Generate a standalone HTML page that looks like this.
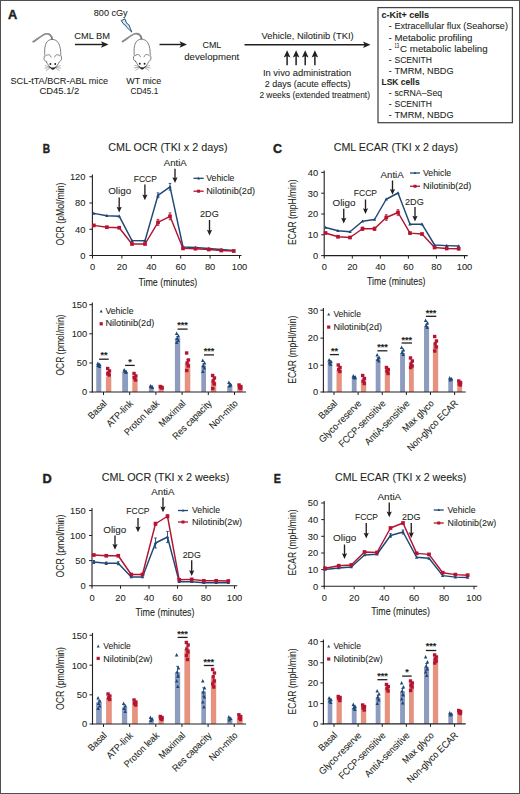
<!DOCTYPE html>
<html><head><meta charset="utf-8"><title>Figure</title>
<style>
html,body{margin:0;padding:0;background:#fff;}
body{width:520px;height:794px;overflow:hidden;}
svg{display:block;font-family:"Liberation Sans",sans-serif;}
text{stroke:#231f20;stroke-width:0.08px;paint-order:stroke;}
</style></head>
<body>
<svg width="520" height="794" viewBox="0 0 520 794" fill="#231f20">
<rect width="520" height="794" fill="#fff"/>
<rect x="0.5" y="0.5" width="519" height="793" fill="none" stroke="#505050" stroke-width="1"/>
<text x="8.10" y="18.80" font-size="13.5" textLength="9.23" lengthAdjust="spacingAndGlyphs" font-weight="bold" style="stroke-width:0.45px">A</text>
<text x="93.80" y="15.50" font-size="9.5" textLength="33.80" lengthAdjust="spacingAndGlyphs">800 cGy</text>
<g transform="translate(-89.40,0.20)" fill="none" stroke="#3c3c3c" stroke-width="0.65" stroke-linecap="round" stroke-linejoin="round"><path d="M122.6,41.5 C126,39.5 131,35 134.9,33.8 C137,33.2 139.5,34 141,36.5 L141.5,39" stroke-width="1.7" stroke="#6f6f6f"/><path d="M122.9,41.2 C126,39.3 131,35 134.9,33.8 C137,33.2 139.5,34 141,36.5" stroke-width="0.5" stroke="#c8c8c8"/><path d="M135.7,61.5 C134.2,60.8 133.3,59.5 133.4,58 C133.5,56.8 133.9,55.9 134.3,55.4 C133.8,51 134,46 135.5,43 C136.8,40.5 139,39.2 141.6,39.2 C144.2,39.2 146.5,40.5 148,43 C149.7,46 150.3,51 150.2,55.4 C150.6,55.9 151,56.8 151,58 C151,59.5 150.2,60.8 148.8,61.5 C147.5,64 145.5,67.5 142.2,69.3 C139,67.5 137,64 135.7,61.5 Z" fill="#fff"/><path d="M135.3,55.7 C136.3,54.6 137.6,54.3 138.6,54.7 C139.6,55.1 140.2,55.8 140.4,56.8"/><path d="M149.2,55.7 C148.2,54.6 146.9,54.3 145.9,54.7 C144.9,55.1 144.3,55.8 144.1,56.8"/><circle cx="139.8" cy="63.8" r="0.95" fill="#1e1e1e" stroke="none"/><circle cx="144.6" cy="63.8" r="0.95" fill="#1e1e1e" stroke="none"/><path d="M139.3,66.8 C140.2,68.3 141.2,69.1 142.2,69.1 C143.2,69.1 144.2,68.3 145.1,66.8 C144.3,67.4 143.3,67.7 142.2,67.7 C141.1,67.7 140.1,67.4 139.3,66.8 Z" fill="#1e1e1e" stroke-width="0.7"/><path d="M139,66.7 L134.7,65.4 M139,67.3 L134.3,67.9 M139.4,67.8 L135.6,70.3 M145.4,66.7 L149.7,65.4 M145.4,67.3 L150.1,67.9 M145,67.8 L148.8,70.3" stroke-width="0.45" stroke="#555"/></g>
<g transform="translate(0.00,0.00)" fill="none" stroke="#3c3c3c" stroke-width="0.65" stroke-linecap="round" stroke-linejoin="round"><path d="M122.6,41.5 C126,39.5 131,35 134.9,33.8 C137,33.2 139.5,34 141,36.5 L141.5,39" stroke-width="1.7" stroke="#6f6f6f"/><path d="M122.9,41.2 C126,39.3 131,35 134.9,33.8 C137,33.2 139.5,34 141,36.5" stroke-width="0.5" stroke="#c8c8c8"/><path d="M135.7,61.5 C134.2,60.8 133.3,59.5 133.4,58 C133.5,56.8 133.9,55.9 134.3,55.4 C133.8,51 134,46 135.5,43 C136.8,40.5 139,39.2 141.6,39.2 C144.2,39.2 146.5,40.5 148,43 C149.7,46 150.3,51 150.2,55.4 C150.6,55.9 151,56.8 151,58 C151,59.5 150.2,60.8 148.8,61.5 C147.5,64 145.5,67.5 142.2,69.3 C139,67.5 137,64 135.7,61.5 Z" fill="#fff"/><path d="M135.3,55.7 C136.3,54.6 137.6,54.3 138.6,54.7 C139.6,55.1 140.2,55.8 140.4,56.8"/><path d="M149.2,55.7 C148.2,54.6 146.9,54.3 145.9,54.7 C144.9,55.1 144.3,55.8 144.1,56.8"/><circle cx="139.8" cy="63.8" r="0.95" fill="#1e1e1e" stroke="none"/><circle cx="144.6" cy="63.8" r="0.95" fill="#1e1e1e" stroke="none"/><path d="M139.3,66.8 C140.2,68.3 141.2,69.1 142.2,69.1 C143.2,69.1 144.2,68.3 145.1,66.8 C144.3,67.4 143.3,67.7 142.2,67.7 C141.1,67.7 140.1,67.4 139.3,66.8 Z" fill="#1e1e1e" stroke-width="0.7"/><path d="M139,66.7 L134.7,65.4 M139,67.3 L134.3,67.9 M139.4,67.8 L135.6,70.3 M145.4,66.7 L149.7,65.4 M145.4,67.3 L150.1,67.9 M145,67.8 L148.8,70.3" stroke-width="0.45" stroke="#555"/></g>
<path d="M121.2,20.6 L124.9,18.9 L126.7,23.3 L128.8,24.6 L131.8,32.1 L126.6,27.2 L125.6,25.3 L123.9,24.5 Z" fill="#cfe9f7" stroke="#1b3f66" stroke-width="0.9" stroke-linejoin="round"/>
<text x="74.25" y="39.25" font-size="9.5" textLength="35.75" lengthAdjust="spacingAndGlyphs">CML BM</text>
<line x1="75.00" y1="44.50" x2="104.50" y2="44.50" stroke="#231f20" stroke-width="1.45"/>
<path d="M101.00,41.30 L108.50,44.50 L101.00,47.70 L102.70,44.50 Z" fill="#231f20"/>
<text x="10.50" y="83.75" font-size="9.5" textLength="97.50" lengthAdjust="spacingAndGlyphs">SCL-tTA/BCR-ABL mice</text>
<text x="39.50" y="94.40" font-size="9.5" textLength="39.70" lengthAdjust="spacingAndGlyphs">CD45.1/2</text>
<text x="126.25" y="83.75" font-size="9.5" textLength="35.00" lengthAdjust="spacingAndGlyphs">WT mice</text>
<text x="130.50" y="94.40" font-size="9.5" textLength="27.75" lengthAdjust="spacingAndGlyphs">CD45.1</text>
<line x1="159.50" y1="44.50" x2="183.00" y2="44.50" stroke="#231f20" stroke-width="1.45"/>
<path d="M179.50,41.30 L187.00,44.50 L179.50,47.70 L181.20,44.50 Z" fill="#231f20"/>
<text x="202.50" y="48.25" font-size="9.5" textLength="18.75" lengthAdjust="spacingAndGlyphs">CML</text>
<text x="184.25" y="59.60" font-size="9.5" textLength="55.00" lengthAdjust="spacingAndGlyphs">development</text>
<line x1="244.50" y1="44.80" x2="366.50" y2="44.80" stroke="#231f20" stroke-width="1.45"/>
<path d="M363.00,41.60 L370.50,44.80 L363.00,48.00 L364.70,44.80 Z" fill="#231f20"/>
<text x="261.50" y="39.40" font-size="9.5" textLength="92.10" lengthAdjust="spacingAndGlyphs">Vehicle, Nilotinib (TKI)</text>
<line x1="287.10" y1="54.20" x2="287.10" y2="65.20" stroke="#231f20" stroke-width="1.5"/>
<path d="M283.80,57.50 L287.10,50.20 L290.40,57.50 L287.10,56.10 Z" fill="#231f20"/>
<line x1="296.10" y1="54.20" x2="296.10" y2="65.20" stroke="#231f20" stroke-width="1.5"/>
<path d="M292.80,57.50 L296.10,50.20 L299.40,57.50 L296.10,56.10 Z" fill="#231f20"/>
<line x1="305.20" y1="54.20" x2="305.20" y2="65.20" stroke="#231f20" stroke-width="1.5"/>
<path d="M301.90,57.50 L305.20,50.20 L308.50,57.50 L305.20,56.10 Z" fill="#231f20"/>
<line x1="314.90" y1="54.20" x2="314.90" y2="65.20" stroke="#231f20" stroke-width="1.5"/>
<path d="M311.60,57.50 L314.90,50.20 L318.20,57.50 L314.90,56.10 Z" fill="#231f20"/>
<text x="262.90" y="76.40" font-size="9.5" textLength="88.30" lengthAdjust="spacingAndGlyphs">In vivo administration</text>
<text x="264.80" y="87.10" font-size="9.5" textLength="85.60" lengthAdjust="spacingAndGlyphs">2 days (acute effects)</text>
<text x="259.40" y="97.80" font-size="9.5" textLength="110.60" lengthAdjust="spacingAndGlyphs">2 weeks (extended treatment)</text>
<rect x="378" y="7.6" width="134.4" height="115.1" fill="none" stroke="#444" stroke-width="1.25"/>
<text x="381.50" y="18.30" font-size="9.5" textLength="47.60" lengthAdjust="spacingAndGlyphs" font-weight="bold">c-Kit+ cells</text>
<text x="388.70" y="29.40" font-size="9" textLength="2.80" lengthAdjust="spacingAndGlyphs">-</text>
<text x="394.50" y="29.40" font-size="9.5" textLength="113.40" lengthAdjust="spacingAndGlyphs">Extracellular flux (Seahorse)</text>
<text x="388.70" y="40.50" font-size="9" textLength="2.80" lengthAdjust="spacingAndGlyphs">-</text>
<text x="394.50" y="40.50" font-size="9.5" textLength="77.90" lengthAdjust="spacingAndGlyphs">Metabolic profiling</text>
<text x="388.70" y="51.60" font-size="9" textLength="2.80" lengthAdjust="spacingAndGlyphs">-</text>
<text x="394.50" y="48.20" font-size="6.6" textLength="4.60" lengthAdjust="spacingAndGlyphs">13</text>
<text x="400.10" y="51.60" font-size="9.5" textLength="87.60" lengthAdjust="spacingAndGlyphs">C metabolic labeling</text>
<text x="388.70" y="62.70" font-size="9" textLength="2.80" lengthAdjust="spacingAndGlyphs">-</text>
<text x="394.50" y="62.70" font-size="9.5" textLength="37.50" lengthAdjust="spacingAndGlyphs">SCENITH</text>
<text x="388.70" y="73.80" font-size="9" textLength="2.80" lengthAdjust="spacingAndGlyphs">-</text>
<text x="394.50" y="73.80" font-size="9.5" textLength="59.10" lengthAdjust="spacingAndGlyphs">TMRM, NBDG</text>
<text x="381.50" y="84.90" font-size="9.5" textLength="38.10" lengthAdjust="spacingAndGlyphs" font-weight="bold">LSK cells</text>
<text x="388.70" y="96.00" font-size="9" textLength="2.80" lengthAdjust="spacingAndGlyphs">-</text>
<text x="394.50" y="96.00" font-size="9.5" textLength="47.60" lengthAdjust="spacingAndGlyphs">scRNA–Seq</text>
<text x="388.70" y="107.10" font-size="9" textLength="2.80" lengthAdjust="spacingAndGlyphs">-</text>
<text x="394.50" y="107.10" font-size="9.5" textLength="37.50" lengthAdjust="spacingAndGlyphs">SCENITH</text>
<text x="388.70" y="118.20" font-size="9" textLength="2.80" lengthAdjust="spacingAndGlyphs">-</text>
<text x="394.50" y="118.20" font-size="9.5" textLength="59.10" lengthAdjust="spacingAndGlyphs">TMRM, NBDG</text>
<line x1="92.40" y1="174.50" x2="92.40" y2="256.00" stroke="#231f20" stroke-width="1.1"/>
<line x1="91.90" y1="255.50" x2="241.50" y2="255.50" stroke="#231f20" stroke-width="1.1"/>
<line x1="89.40" y1="255.50" x2="92.40" y2="255.50" stroke="#231f20" stroke-width="1"/>
<text x="85.40" y="258.80" font-size="9.3" text-anchor="end">0</text>
<line x1="89.40" y1="229.25" x2="92.40" y2="229.25" stroke="#231f20" stroke-width="1"/>
<text x="85.40" y="232.55" font-size="9.3" text-anchor="end">40</text>
<line x1="89.40" y1="203.00" x2="92.40" y2="203.00" stroke="#231f20" stroke-width="1"/>
<text x="85.40" y="206.30" font-size="9.3" text-anchor="end">80</text>
<line x1="89.40" y1="176.75" x2="92.40" y2="176.75" stroke="#231f20" stroke-width="1"/>
<text x="85.40" y="180.05" font-size="9.3" text-anchor="end">120</text>
<line x1="92.50" y1="255.50" x2="92.50" y2="258.50" stroke="#231f20" stroke-width="1"/>
<text x="92.50" y="270.40" font-size="9.3" text-anchor="middle">0</text>
<line x1="121.90" y1="255.50" x2="121.90" y2="258.50" stroke="#231f20" stroke-width="1"/>
<text x="121.90" y="270.40" font-size="9.3" text-anchor="middle">20</text>
<line x1="151.30" y1="255.50" x2="151.30" y2="258.50" stroke="#231f20" stroke-width="1"/>
<text x="151.30" y="270.40" font-size="9.3" text-anchor="middle">40</text>
<line x1="180.70" y1="255.50" x2="180.70" y2="258.50" stroke="#231f20" stroke-width="1"/>
<text x="180.70" y="270.40" font-size="9.3" text-anchor="middle">60</text>
<line x1="210.10" y1="255.50" x2="210.10" y2="258.50" stroke="#231f20" stroke-width="1"/>
<text x="210.10" y="270.40" font-size="9.3" text-anchor="middle">80</text>
<line x1="239.50" y1="255.50" x2="239.50" y2="258.50" stroke="#231f20" stroke-width="1"/>
<text x="239.50" y="270.40" font-size="9.3" text-anchor="middle">100</text>
<text x="138.40" y="285.70" font-size="10" textLength="58.90" lengthAdjust="spacingAndGlyphs">Time (minutes)</text>
<text x="63.60" y="245.50" font-size="10.6" textLength="62.90" lengthAdjust="spacingAndGlyphs" transform="rotate(-90 63.60 245.50)">OCR (pMol/min)</text>
<text x="108.25" y="151.25" font-size="10.4" textLength="119.25" lengthAdjust="spacingAndGlyphs">CML OCR (TKI x 2 days)</text>
<text x="42.80" y="152.80" font-size="13.5" textLength="7.32" lengthAdjust="spacingAndGlyphs" font-weight="bold" style="stroke-width:0.45px">B</text>
<text x="108.20" y="194.30" font-size="9.5" textLength="23.00" lengthAdjust="spacingAndGlyphs">Oligo</text>
<line x1="119.20" y1="197.40" x2="119.20" y2="208.60" stroke="#231f20" stroke-width="1.35"/>
<path d="M116.60,206.80 L119.20,212.60 L121.80,206.80 L119.20,207.80 Z" fill="#231f20"/>
<text x="133.80" y="181.80" font-size="9.5" textLength="23.10" lengthAdjust="spacingAndGlyphs">FCCP</text>
<line x1="144.90" y1="184.60" x2="144.90" y2="196.30" stroke="#231f20" stroke-width="1.35"/>
<path d="M142.30,194.50 L144.90,200.30 L147.50,194.50 L144.90,195.50 Z" fill="#231f20"/>
<text x="163.75" y="165.75" font-size="9.5" textLength="23.00" lengthAdjust="spacingAndGlyphs">AntiA</text>
<line x1="175.00" y1="168.75" x2="175.00" y2="179.10" stroke="#231f20" stroke-width="1.35"/>
<path d="M172.40,177.30 L175.00,183.10 L177.60,177.30 L175.00,178.30 Z" fill="#231f20"/>
<text x="200.00" y="217.00" font-size="9.5" textLength="18.75" lengthAdjust="spacingAndGlyphs">2DG</text>
<line x1="209.50" y1="220.00" x2="209.50" y2="231.60" stroke="#231f20" stroke-width="1.35"/>
<path d="M206.90,229.80 L209.50,235.60 L212.10,229.80 L209.50,230.80 Z" fill="#231f20"/>
<line x1="193.50" y1="178.30" x2="203.70" y2="178.30" stroke="#1f4877" stroke-width="1.3"/>
<path d="M198.60,176.76 L200.00,179.42 L197.20,179.42 Z" fill="#1f4877"/>
<line x1="193.50" y1="191.20" x2="203.70" y2="191.20" stroke="#b41331" stroke-width="1.3"/>
<rect x="197.10" y="189.70" width="3.00" height="3.00" fill="#b41331"/>
<text x="206.25" y="180.90" font-size="9.5" textLength="28.25" lengthAdjust="spacingAndGlyphs">Vehicle</text>
<text x="206.25" y="194.00" font-size="9.5" textLength="48.75" lengthAdjust="spacingAndGlyphs">Nilotinib(2d)</text>
<line x1="158.00" y1="192.90" x2="158.00" y2="197.70" stroke="#1f4877" stroke-width="0.9"/>
<line x1="156.70" y1="192.90" x2="159.30" y2="192.90" stroke="#1f4877" stroke-width="0.9"/>
<line x1="156.70" y1="197.70" x2="159.30" y2="197.70" stroke="#1f4877" stroke-width="0.9"/>
<line x1="170.00" y1="183.40" x2="170.00" y2="190.20" stroke="#1f4877" stroke-width="0.9"/>
<line x1="168.70" y1="183.40" x2="171.30" y2="183.40" stroke="#1f4877" stroke-width="0.9"/>
<line x1="168.70" y1="190.20" x2="171.30" y2="190.20" stroke="#1f4877" stroke-width="0.9"/>
<line x1="158.00" y1="219.40" x2="158.00" y2="225.40" stroke="#b41331" stroke-width="0.9"/>
<line x1="156.70" y1="219.40" x2="159.30" y2="219.40" stroke="#b41331" stroke-width="0.9"/>
<line x1="156.70" y1="225.40" x2="159.30" y2="225.40" stroke="#b41331" stroke-width="0.9"/>
<line x1="170.00" y1="212.90" x2="170.00" y2="219.70" stroke="#b41331" stroke-width="0.9"/>
<line x1="168.70" y1="212.90" x2="171.30" y2="212.90" stroke="#b41331" stroke-width="0.9"/>
<line x1="168.70" y1="219.70" x2="171.30" y2="219.70" stroke="#b41331" stroke-width="0.9"/>
<polyline points="93.80,213.40 106.90,215.70 119.20,216.20 132.00,240.60 145.00,240.75 158.00,195.30 170.00,186.80 183.00,247.00 195.50,247.50 208.75,248.50 221.25,249.50 233.75,250.50" stroke="#1f4877" stroke-width="1.45" fill="none" stroke-linejoin="round"/>
<path d="M93.80,211.53 L95.50,214.76 L92.10,214.76 Z" fill="#1f4877"/>
<path d="M106.90,213.83 L108.60,217.06 L105.20,217.06 Z" fill="#1f4877"/>
<path d="M119.20,214.33 L120.90,217.56 L117.50,217.56 Z" fill="#1f4877"/>
<path d="M132.00,238.73 L133.70,241.96 L130.30,241.96 Z" fill="#1f4877"/>
<path d="M145.00,238.88 L146.70,242.11 L143.30,242.11 Z" fill="#1f4877"/>
<path d="M158.00,193.43 L159.70,196.66 L156.30,196.66 Z" fill="#1f4877"/>
<path d="M170.00,184.93 L171.70,188.16 L168.30,188.16 Z" fill="#1f4877"/>
<path d="M183.00,245.13 L184.70,248.36 L181.30,248.36 Z" fill="#1f4877"/>
<path d="M195.50,245.63 L197.20,248.86 L193.80,248.86 Z" fill="#1f4877"/>
<path d="M208.75,246.63 L210.45,249.86 L207.05,249.86 Z" fill="#1f4877"/>
<path d="M221.25,247.63 L222.95,250.86 L219.55,250.86 Z" fill="#1f4877"/>
<path d="M233.75,248.63 L235.45,251.86 L232.05,251.86 Z" fill="#1f4877"/>
<polyline points="93.80,225.40 106.90,227.20 119.20,227.70 132.00,244.00 145.00,244.00 158.00,222.40 170.00,216.30 183.00,248.40 195.50,248.70 208.75,249.50 221.25,250.50 233.75,251.00" stroke="#b41331" stroke-width="1.45" fill="none" stroke-linejoin="round"/>
<rect x="91.95" y="223.55" width="3.70" height="3.70" fill="#b41331"/>
<rect x="105.05" y="225.35" width="3.70" height="3.70" fill="#b41331"/>
<rect x="117.35" y="225.85" width="3.70" height="3.70" fill="#b41331"/>
<rect x="130.15" y="242.15" width="3.70" height="3.70" fill="#b41331"/>
<rect x="143.15" y="242.15" width="3.70" height="3.70" fill="#b41331"/>
<rect x="156.15" y="220.55" width="3.70" height="3.70" fill="#b41331"/>
<rect x="168.15" y="214.45" width="3.70" height="3.70" fill="#b41331"/>
<rect x="181.15" y="246.55" width="3.70" height="3.70" fill="#b41331"/>
<rect x="193.65" y="246.85" width="3.70" height="3.70" fill="#b41331"/>
<rect x="206.90" y="247.65" width="3.70" height="3.70" fill="#b41331"/>
<rect x="219.40" y="248.65" width="3.70" height="3.70" fill="#b41331"/>
<rect x="231.90" y="249.15" width="3.70" height="3.70" fill="#b41331"/>
<line x1="324.20" y1="170.50" x2="324.20" y2="256.10" stroke="#231f20" stroke-width="1.1"/>
<line x1="323.70" y1="255.60" x2="467.70" y2="255.60" stroke="#231f20" stroke-width="1.1"/>
<line x1="321.20" y1="255.60" x2="324.20" y2="255.60" stroke="#231f20" stroke-width="1"/>
<text x="318.20" y="258.90" font-size="9.3" text-anchor="end">0</text>
<line x1="321.20" y1="234.80" x2="324.20" y2="234.80" stroke="#231f20" stroke-width="1"/>
<text x="318.20" y="238.10" font-size="9.3" text-anchor="end">10</text>
<line x1="321.20" y1="214.00" x2="324.20" y2="214.00" stroke="#231f20" stroke-width="1"/>
<text x="318.20" y="217.30" font-size="9.3" text-anchor="end">20</text>
<line x1="321.20" y1="193.20" x2="324.20" y2="193.20" stroke="#231f20" stroke-width="1"/>
<text x="318.20" y="196.50" font-size="9.3" text-anchor="end">30</text>
<line x1="321.20" y1="172.40" x2="324.20" y2="172.40" stroke="#231f20" stroke-width="1"/>
<text x="318.20" y="175.70" font-size="9.3" text-anchor="end">40</text>
<line x1="324.25" y1="255.60" x2="324.25" y2="258.60" stroke="#231f20" stroke-width="1"/>
<text x="324.25" y="270.40" font-size="9.3" text-anchor="middle">0</text>
<line x1="352.30" y1="255.60" x2="352.30" y2="258.60" stroke="#231f20" stroke-width="1"/>
<text x="352.30" y="270.40" font-size="9.3" text-anchor="middle">20</text>
<line x1="380.35" y1="255.60" x2="380.35" y2="258.60" stroke="#231f20" stroke-width="1"/>
<text x="380.35" y="270.40" font-size="9.3" text-anchor="middle">40</text>
<line x1="408.40" y1="255.60" x2="408.40" y2="258.60" stroke="#231f20" stroke-width="1"/>
<text x="408.40" y="270.40" font-size="9.3" text-anchor="middle">60</text>
<line x1="436.45" y1="255.60" x2="436.45" y2="258.60" stroke="#231f20" stroke-width="1"/>
<text x="436.45" y="270.40" font-size="9.3" text-anchor="middle">80</text>
<line x1="464.50" y1="255.60" x2="464.50" y2="258.60" stroke="#231f20" stroke-width="1"/>
<text x="464.50" y="270.40" font-size="9.3" text-anchor="middle">100</text>
<text x="367.00" y="285.00" font-size="10" textLength="58.50" lengthAdjust="spacingAndGlyphs">Time (minutes)</text>
<text x="296.00" y="245.00" font-size="10.6" textLength="65.50" lengthAdjust="spacingAndGlyphs" transform="rotate(-90 296.00 245.00)">ECAR (mpH/min)</text>
<text x="333.75" y="150.50" font-size="10.4" textLength="124.25" lengthAdjust="spacingAndGlyphs">CML ECAR (TKI x 2 days)</text>
<text x="273.00" y="153.00" font-size="13.5" textLength="9.03" lengthAdjust="spacingAndGlyphs" font-weight="bold" style="stroke-width:0.45px">C</text>
<text x="332.50" y="205.50" font-size="9.5" textLength="23.00" lengthAdjust="spacingAndGlyphs">Oligo</text>
<line x1="343.75" y1="208.75" x2="343.75" y2="219.60" stroke="#231f20" stroke-width="1.35"/>
<path d="M341.15,217.80 L343.75,223.60 L346.35,217.80 L343.75,218.80 Z" fill="#231f20"/>
<text x="353.75" y="196.25" font-size="9.5" textLength="23.25" lengthAdjust="spacingAndGlyphs">FCCP</text>
<line x1="365.50" y1="199.50" x2="365.50" y2="210.10" stroke="#231f20" stroke-width="1.35"/>
<path d="M362.90,208.30 L365.50,214.10 L368.10,208.30 L365.50,209.30 Z" fill="#231f20"/>
<text x="380.50" y="178.00" font-size="9.5" textLength="23.25" lengthAdjust="spacingAndGlyphs">AntiA</text>
<line x1="392.50" y1="180.50" x2="392.50" y2="190.85" stroke="#231f20" stroke-width="1.35"/>
<path d="M389.90,189.05 L392.50,194.85 L395.10,189.05 L392.50,190.05 Z" fill="#231f20"/>
<text x="405.00" y="204.50" font-size="9.5" textLength="18.75" lengthAdjust="spacingAndGlyphs">2DG</text>
<line x1="415.00" y1="207.00" x2="415.00" y2="217.60" stroke="#231f20" stroke-width="1.35"/>
<path d="M412.40,215.80 L415.00,221.60 L417.60,215.80 L415.00,216.80 Z" fill="#231f20"/>
<line x1="410.00" y1="173.00" x2="420.00" y2="173.00" stroke="#1f4877" stroke-width="1.3"/>
<path d="M415.00,171.46 L416.40,174.12 L413.60,174.12 Z" fill="#1f4877"/>
<line x1="410.00" y1="186.25" x2="420.00" y2="186.25" stroke="#b41331" stroke-width="1.3"/>
<rect x="413.50" y="184.75" width="3.00" height="3.00" fill="#b41331"/>
<text x="423.00" y="176.25" font-size="9.5" textLength="28.25" lengthAdjust="spacingAndGlyphs">Vehicle</text>
<text x="423.00" y="188.75" font-size="9.5" textLength="48.25" lengthAdjust="spacingAndGlyphs">Nilotinib(2d)</text>
<line x1="362.50" y1="227.15" x2="362.50" y2="230.35" stroke="#b41331" stroke-width="0.9"/>
<line x1="361.20" y1="227.15" x2="363.80" y2="227.15" stroke="#b41331" stroke-width="0.9"/>
<line x1="361.20" y1="230.35" x2="363.80" y2="230.35" stroke="#b41331" stroke-width="0.9"/>
<line x1="374.50" y1="227.15" x2="374.50" y2="230.35" stroke="#b41331" stroke-width="0.9"/>
<line x1="373.20" y1="227.15" x2="375.80" y2="227.15" stroke="#b41331" stroke-width="0.9"/>
<line x1="373.20" y1="230.35" x2="375.80" y2="230.35" stroke="#b41331" stroke-width="0.9"/>
<line x1="386.25" y1="214.70" x2="386.25" y2="220.30" stroke="#b41331" stroke-width="0.9"/>
<line x1="384.95" y1="214.70" x2="387.55" y2="214.70" stroke="#b41331" stroke-width="0.9"/>
<line x1="384.95" y1="220.30" x2="387.55" y2="220.30" stroke="#b41331" stroke-width="0.9"/>
<line x1="398.00" y1="209.70" x2="398.00" y2="215.30" stroke="#b41331" stroke-width="0.9"/>
<line x1="396.70" y1="209.70" x2="399.30" y2="209.70" stroke="#b41331" stroke-width="0.9"/>
<line x1="396.70" y1="215.30" x2="399.30" y2="215.30" stroke="#b41331" stroke-width="0.9"/>
<polyline points="325.50,227.50 338.00,230.75 350.00,231.75 362.50,221.25 374.50,219.50 386.25,199.25 398.00,193.00 410.00,224.20 422.00,224.20 434.60,245.00 446.70,245.60 458.70,246.00" stroke="#1f4877" stroke-width="1.45" fill="none" stroke-linejoin="round"/>
<path d="M325.50,225.63 L327.20,228.86 L323.80,228.86 Z" fill="#1f4877"/>
<path d="M338.00,228.88 L339.70,232.11 L336.30,232.11 Z" fill="#1f4877"/>
<path d="M350.00,229.88 L351.70,233.11 L348.30,233.11 Z" fill="#1f4877"/>
<path d="M362.50,219.38 L364.20,222.61 L360.80,222.61 Z" fill="#1f4877"/>
<path d="M374.50,217.63 L376.20,220.86 L372.80,220.86 Z" fill="#1f4877"/>
<path d="M386.25,197.38 L387.95,200.61 L384.55,200.61 Z" fill="#1f4877"/>
<path d="M398.00,191.13 L399.70,194.36 L396.30,194.36 Z" fill="#1f4877"/>
<path d="M410.00,222.33 L411.70,225.56 L408.30,225.56 Z" fill="#1f4877"/>
<path d="M422.00,222.33 L423.70,225.56 L420.30,225.56 Z" fill="#1f4877"/>
<path d="M434.60,243.13 L436.30,246.36 L432.90,246.36 Z" fill="#1f4877"/>
<path d="M446.70,243.73 L448.40,246.96 L445.00,246.96 Z" fill="#1f4877"/>
<path d="M458.70,244.13 L460.40,247.36 L457.00,247.36 Z" fill="#1f4877"/>
<polyline points="325.50,233.00 338.00,236.75 350.00,237.50 362.50,228.75 374.50,228.75 386.25,217.50 398.00,212.50 410.00,233.10 422.00,234.00 434.60,247.50 446.70,248.50 458.70,248.80" stroke="#b41331" stroke-width="1.45" fill="none" stroke-linejoin="round"/>
<rect x="323.65" y="231.15" width="3.70" height="3.70" fill="#b41331"/>
<rect x="336.15" y="234.90" width="3.70" height="3.70" fill="#b41331"/>
<rect x="348.15" y="235.65" width="3.70" height="3.70" fill="#b41331"/>
<rect x="360.65" y="226.90" width="3.70" height="3.70" fill="#b41331"/>
<rect x="372.65" y="226.90" width="3.70" height="3.70" fill="#b41331"/>
<rect x="384.40" y="215.65" width="3.70" height="3.70" fill="#b41331"/>
<rect x="396.15" y="210.65" width="3.70" height="3.70" fill="#b41331"/>
<rect x="408.15" y="231.25" width="3.70" height="3.70" fill="#b41331"/>
<rect x="420.15" y="232.15" width="3.70" height="3.70" fill="#b41331"/>
<rect x="432.75" y="245.65" width="3.70" height="3.70" fill="#b41331"/>
<rect x="444.85" y="246.65" width="3.70" height="3.70" fill="#b41331"/>
<rect x="456.85" y="246.95" width="3.70" height="3.70" fill="#b41331"/>
<line x1="92.00" y1="508.00" x2="92.00" y2="586.25" stroke="#231f20" stroke-width="1.1"/>
<line x1="91.50" y1="585.75" x2="237.30" y2="585.75" stroke="#231f20" stroke-width="1.1"/>
<line x1="89.00" y1="585.75" x2="92.00" y2="585.75" stroke="#231f20" stroke-width="1"/>
<text x="85.60" y="589.05" font-size="9.3" text-anchor="end">0</text>
<line x1="89.00" y1="560.60" x2="92.00" y2="560.60" stroke="#231f20" stroke-width="1"/>
<text x="85.60" y="563.90" font-size="9.3" text-anchor="end">50</text>
<line x1="89.00" y1="535.50" x2="92.00" y2="535.50" stroke="#231f20" stroke-width="1"/>
<text x="85.60" y="538.80" font-size="9.3" text-anchor="end">100</text>
<line x1="89.00" y1="510.50" x2="92.00" y2="510.50" stroke="#231f20" stroke-width="1"/>
<text x="85.60" y="513.80" font-size="9.3" text-anchor="end">150</text>
<line x1="92.00" y1="585.75" x2="92.00" y2="588.75" stroke="#231f20" stroke-width="1"/>
<text x="92.00" y="600.60" font-size="9.3" text-anchor="middle">0</text>
<line x1="120.50" y1="585.75" x2="120.50" y2="588.75" stroke="#231f20" stroke-width="1"/>
<text x="120.50" y="600.60" font-size="9.3" text-anchor="middle">20</text>
<line x1="149.00" y1="585.75" x2="149.00" y2="588.75" stroke="#231f20" stroke-width="1"/>
<text x="149.00" y="600.60" font-size="9.3" text-anchor="middle">40</text>
<line x1="177.50" y1="585.75" x2="177.50" y2="588.75" stroke="#231f20" stroke-width="1"/>
<text x="177.50" y="600.60" font-size="9.3" text-anchor="middle">60</text>
<line x1="206.00" y1="585.75" x2="206.00" y2="588.75" stroke="#231f20" stroke-width="1"/>
<text x="206.00" y="600.60" font-size="9.3" text-anchor="middle">80</text>
<line x1="234.50" y1="585.75" x2="234.50" y2="588.75" stroke="#231f20" stroke-width="1"/>
<text x="234.50" y="600.60" font-size="9.3" text-anchor="middle">100</text>
<text x="135.50" y="615.50" font-size="10" textLength="59.00" lengthAdjust="spacingAndGlyphs">Time (minutes)</text>
<text x="63.80" y="577.50" font-size="10.6" textLength="63.00" lengthAdjust="spacingAndGlyphs" transform="rotate(-90 63.80 577.50)">OCR (pmol/min)</text>
<text x="101.75" y="480.50" font-size="10.4" textLength="127.50" lengthAdjust="spacingAndGlyphs">CML OCR (TKI x 2 weeks)</text>
<text x="42.60" y="482.80" font-size="13.5" textLength="9.23" lengthAdjust="spacingAndGlyphs" font-weight="bold" style="stroke-width:0.45px">D</text>
<text x="103.25" y="532.50" font-size="9.5" textLength="23.00" lengthAdjust="spacingAndGlyphs">Oligo</text>
<line x1="115.00" y1="535.50" x2="115.00" y2="545.85" stroke="#231f20" stroke-width="1.35"/>
<path d="M112.40,544.05 L115.00,549.85 L117.60,544.05 L115.00,545.05 Z" fill="#231f20"/>
<text x="126.25" y="513.75" font-size="9.5" textLength="23.25" lengthAdjust="spacingAndGlyphs">FCCP</text>
<line x1="138.00" y1="518.00" x2="138.00" y2="528.35" stroke="#231f20" stroke-width="1.35"/>
<path d="M135.40,526.55 L138.00,532.35 L140.60,526.55 L138.00,527.55 Z" fill="#231f20"/>
<text x="151.25" y="495.00" font-size="9.5" textLength="23.25" lengthAdjust="spacingAndGlyphs">AntiA</text>
<line x1="163.00" y1="497.50" x2="163.00" y2="508.35" stroke="#231f20" stroke-width="1.35"/>
<path d="M160.40,506.55 L163.00,512.35 L165.60,506.55 L163.00,507.55 Z" fill="#231f20"/>
<text x="182.70" y="557.70" font-size="9.5" textLength="18.10" lengthAdjust="spacingAndGlyphs">2DG</text>
<line x1="191.70" y1="560.20" x2="191.70" y2="572.10" stroke="#231f20" stroke-width="1.35"/>
<path d="M189.10,570.30 L191.70,576.10 L194.30,570.30 L191.70,571.30 Z" fill="#231f20"/>
<line x1="178.00" y1="510.50" x2="188.00" y2="510.50" stroke="#1f4877" stroke-width="1.3"/>
<path d="M183.00,508.96 L184.40,511.62 L181.60,511.62 Z" fill="#1f4877"/>
<line x1="178.00" y1="522.00" x2="188.00" y2="522.00" stroke="#b41331" stroke-width="1.3"/>
<rect x="181.50" y="520.50" width="3.00" height="3.00" fill="#b41331"/>
<text x="192.00" y="513.20" font-size="9.5" textLength="28.00" lengthAdjust="spacingAndGlyphs">Vehicle</text>
<text x="192.00" y="524.80" font-size="9.5" textLength="50.00" lengthAdjust="spacingAndGlyphs">Nilotinib(2w)</text>
<line x1="93.75" y1="560.50" x2="93.75" y2="563.50" stroke="#1f4877" stroke-width="0.9"/>
<line x1="92.45" y1="560.50" x2="95.05" y2="560.50" stroke="#1f4877" stroke-width="0.9"/>
<line x1="92.45" y1="563.50" x2="95.05" y2="563.50" stroke="#1f4877" stroke-width="0.9"/>
<line x1="106.25" y1="562.05" x2="106.25" y2="564.45" stroke="#1f4877" stroke-width="0.9"/>
<line x1="104.95" y1="562.05" x2="107.55" y2="562.05" stroke="#1f4877" stroke-width="0.9"/>
<line x1="104.95" y1="564.45" x2="107.55" y2="564.45" stroke="#1f4877" stroke-width="0.9"/>
<line x1="118.25" y1="561.75" x2="118.25" y2="564.75" stroke="#1f4877" stroke-width="0.9"/>
<line x1="116.95" y1="561.75" x2="119.55" y2="561.75" stroke="#1f4877" stroke-width="0.9"/>
<line x1="116.95" y1="564.75" x2="119.55" y2="564.75" stroke="#1f4877" stroke-width="0.9"/>
<line x1="155.50" y1="538.00" x2="155.50" y2="548.00" stroke="#1f4877" stroke-width="0.9"/>
<line x1="154.20" y1="538.00" x2="156.80" y2="538.00" stroke="#1f4877" stroke-width="0.9"/>
<line x1="154.20" y1="548.00" x2="156.80" y2="548.00" stroke="#1f4877" stroke-width="0.9"/>
<line x1="167.50" y1="531.40" x2="167.50" y2="542.60" stroke="#1f4877" stroke-width="0.9"/>
<line x1="166.20" y1="531.40" x2="168.80" y2="531.40" stroke="#1f4877" stroke-width="0.9"/>
<line x1="166.20" y1="542.60" x2="168.80" y2="542.60" stroke="#1f4877" stroke-width="0.9"/>
<line x1="155.50" y1="522.25" x2="155.50" y2="525.25" stroke="#b41331" stroke-width="0.9"/>
<line x1="154.20" y1="522.25" x2="156.80" y2="522.25" stroke="#b41331" stroke-width="0.9"/>
<line x1="154.20" y1="525.25" x2="156.80" y2="525.25" stroke="#b41331" stroke-width="0.9"/>
<line x1="167.50" y1="514.75" x2="167.50" y2="517.75" stroke="#b41331" stroke-width="0.9"/>
<line x1="166.20" y1="514.75" x2="168.80" y2="514.75" stroke="#b41331" stroke-width="0.9"/>
<line x1="166.20" y1="517.75" x2="168.80" y2="517.75" stroke="#b41331" stroke-width="0.9"/>
<polyline points="93.75,562.00 106.25,563.25 118.25,563.25 131.25,577.00 142.50,577.00 155.50,543.00 167.50,537.00 179.20,581.70 191.70,581.70 203.80,582.70 216.20,582.70 228.30,582.70" stroke="#1f4877" stroke-width="1.45" fill="none" stroke-linejoin="round"/>
<path d="M93.75,560.13 L95.45,563.36 L92.05,563.36 Z" fill="#1f4877"/>
<path d="M106.25,561.38 L107.95,564.61 L104.55,564.61 Z" fill="#1f4877"/>
<path d="M118.25,561.38 L119.95,564.61 L116.55,564.61 Z" fill="#1f4877"/>
<path d="M131.25,575.13 L132.95,578.36 L129.55,578.36 Z" fill="#1f4877"/>
<path d="M142.50,575.13 L144.20,578.36 L140.80,578.36 Z" fill="#1f4877"/>
<path d="M155.50,541.13 L157.20,544.36 L153.80,544.36 Z" fill="#1f4877"/>
<path d="M167.50,535.13 L169.20,538.36 L165.80,538.36 Z" fill="#1f4877"/>
<path d="M179.20,579.83 L180.90,583.06 L177.50,583.06 Z" fill="#1f4877"/>
<path d="M191.70,579.83 L193.40,583.06 L190.00,583.06 Z" fill="#1f4877"/>
<path d="M203.80,580.83 L205.50,584.06 L202.10,584.06 Z" fill="#1f4877"/>
<path d="M216.20,580.83 L217.90,584.06 L214.50,584.06 Z" fill="#1f4877"/>
<path d="M228.30,580.83 L230.00,584.06 L226.60,584.06 Z" fill="#1f4877"/>
<polyline points="93.75,555.00 106.25,555.75 118.25,555.75 131.25,574.50 142.50,574.50 155.50,523.75 167.50,516.25 179.20,579.80 191.70,579.40 203.80,580.80 216.20,580.80 228.30,581.00" stroke="#b41331" stroke-width="1.45" fill="none" stroke-linejoin="round"/>
<rect x="91.90" y="553.15" width="3.70" height="3.70" fill="#b41331"/>
<rect x="104.40" y="553.90" width="3.70" height="3.70" fill="#b41331"/>
<rect x="116.40" y="553.90" width="3.70" height="3.70" fill="#b41331"/>
<rect x="129.40" y="572.65" width="3.70" height="3.70" fill="#b41331"/>
<rect x="140.65" y="572.65" width="3.70" height="3.70" fill="#b41331"/>
<rect x="153.65" y="521.90" width="3.70" height="3.70" fill="#b41331"/>
<rect x="165.65" y="514.40" width="3.70" height="3.70" fill="#b41331"/>
<rect x="177.35" y="577.95" width="3.70" height="3.70" fill="#b41331"/>
<rect x="189.85" y="577.55" width="3.70" height="3.70" fill="#b41331"/>
<rect x="201.95" y="578.95" width="3.70" height="3.70" fill="#b41331"/>
<rect x="214.35" y="578.95" width="3.70" height="3.70" fill="#b41331"/>
<rect x="226.45" y="579.15" width="3.70" height="3.70" fill="#b41331"/>
<line x1="324.20" y1="501.00" x2="324.20" y2="586.70" stroke="#231f20" stroke-width="1.1"/>
<line x1="323.70" y1="586.20" x2="477.30" y2="586.20" stroke="#231f20" stroke-width="1.1"/>
<line x1="321.20" y1="586.30" x2="324.20" y2="586.30" stroke="#231f20" stroke-width="1"/>
<text x="318.20" y="589.60" font-size="9.3" text-anchor="end">0</text>
<line x1="321.20" y1="569.60" x2="324.20" y2="569.60" stroke="#231f20" stroke-width="1"/>
<text x="318.20" y="572.90" font-size="9.3" text-anchor="end">10</text>
<line x1="321.20" y1="553.00" x2="324.20" y2="553.00" stroke="#231f20" stroke-width="1"/>
<text x="318.20" y="556.30" font-size="9.3" text-anchor="end">20</text>
<line x1="321.20" y1="536.30" x2="324.20" y2="536.30" stroke="#231f20" stroke-width="1"/>
<text x="318.20" y="539.60" font-size="9.3" text-anchor="end">30</text>
<line x1="321.20" y1="519.60" x2="324.20" y2="519.60" stroke="#231f20" stroke-width="1"/>
<text x="318.20" y="522.90" font-size="9.3" text-anchor="end">40</text>
<line x1="321.20" y1="503.00" x2="324.20" y2="503.00" stroke="#231f20" stroke-width="1"/>
<text x="318.20" y="506.30" font-size="9.3" text-anchor="end">50</text>
<line x1="324.25" y1="586.20" x2="324.25" y2="589.20" stroke="#231f20" stroke-width="1"/>
<text x="324.25" y="600.60" font-size="9.3" text-anchor="middle">0</text>
<line x1="354.20" y1="586.20" x2="354.20" y2="589.20" stroke="#231f20" stroke-width="1"/>
<text x="354.20" y="600.60" font-size="9.3" text-anchor="middle">20</text>
<line x1="384.15" y1="586.20" x2="384.15" y2="589.20" stroke="#231f20" stroke-width="1"/>
<text x="384.15" y="600.60" font-size="9.3" text-anchor="middle">40</text>
<line x1="414.10" y1="586.20" x2="414.10" y2="589.20" stroke="#231f20" stroke-width="1"/>
<text x="414.10" y="600.60" font-size="9.3" text-anchor="middle">60</text>
<line x1="444.05" y1="586.20" x2="444.05" y2="589.20" stroke="#231f20" stroke-width="1"/>
<text x="444.05" y="600.60" font-size="9.3" text-anchor="middle">80</text>
<line x1="474.00" y1="586.20" x2="474.00" y2="589.20" stroke="#231f20" stroke-width="1"/>
<text x="474.00" y="600.60" font-size="9.3" text-anchor="middle">100</text>
<text x="371.25" y="615.30" font-size="10" textLength="58.75" lengthAdjust="spacingAndGlyphs">Time (minutes)</text>
<text x="296.00" y="575.60" font-size="10.6" textLength="66.10" lengthAdjust="spacingAndGlyphs" transform="rotate(-90 296.00 575.60)">ECAR (mpH/min)</text>
<text x="335.00" y="480.50" font-size="10.4" textLength="131.25" lengthAdjust="spacingAndGlyphs">CML ECAR (TKI x 2 weeks)</text>
<text x="273.80" y="482.80" font-size="13.5" textLength="7.12" lengthAdjust="spacingAndGlyphs" font-weight="bold" style="stroke-width:0.45px">E</text>
<text x="333.00" y="541.25" font-size="9.5" textLength="23.25" lengthAdjust="spacingAndGlyphs">Oligo</text>
<line x1="344.50" y1="544.50" x2="344.50" y2="555.10" stroke="#231f20" stroke-width="1.35"/>
<path d="M341.90,553.30 L344.50,559.10 L347.10,553.30 L344.50,554.30 Z" fill="#231f20"/>
<text x="355.00" y="520.00" font-size="9.5" textLength="23.00" lengthAdjust="spacingAndGlyphs">FCCP</text>
<line x1="366.25" y1="523.00" x2="366.25" y2="534.60" stroke="#231f20" stroke-width="1.35"/>
<path d="M363.65,532.80 L366.25,538.60 L368.85,532.80 L366.25,533.80 Z" fill="#231f20"/>
<text x="377.50" y="499.50" font-size="9.5" textLength="23.75" lengthAdjust="spacingAndGlyphs">AntiA</text>
<line x1="389.25" y1="502.50" x2="389.25" y2="513.35" stroke="#231f20" stroke-width="1.35"/>
<path d="M386.65,511.55 L389.25,517.35 L391.85,511.55 L389.25,512.55 Z" fill="#231f20"/>
<text x="402.00" y="519.50" font-size="9.5" textLength="18.50" lengthAdjust="spacingAndGlyphs">2DG</text>
<line x1="411.25" y1="523.00" x2="411.25" y2="534.10" stroke="#231f20" stroke-width="1.35"/>
<path d="M408.65,532.30 L411.25,538.10 L413.85,532.30 L411.25,533.30 Z" fill="#231f20"/>
<line x1="433.75" y1="510.00" x2="443.75" y2="510.00" stroke="#1f4877" stroke-width="1.3"/>
<path d="M438.75,508.46 L440.15,511.12 L437.35,511.12 Z" fill="#1f4877"/>
<line x1="433.75" y1="523.00" x2="443.75" y2="523.00" stroke="#b41331" stroke-width="1.3"/>
<rect x="437.25" y="521.50" width="3.00" height="3.00" fill="#b41331"/>
<text x="447.50" y="512.70" font-size="9.5" textLength="28.00" lengthAdjust="spacingAndGlyphs">Vehicle</text>
<text x="447.50" y="525.70" font-size="9.5" textLength="48.75" lengthAdjust="spacingAndGlyphs">Nilotinib(2w)</text>
<line x1="390.50" y1="533.70" x2="390.50" y2="537.30" stroke="#1f4877" stroke-width="0.9"/>
<line x1="389.20" y1="533.70" x2="391.80" y2="533.70" stroke="#1f4877" stroke-width="0.9"/>
<line x1="389.20" y1="537.30" x2="391.80" y2="537.30" stroke="#1f4877" stroke-width="0.9"/>
<line x1="403.00" y1="530.00" x2="403.00" y2="534.00" stroke="#1f4877" stroke-width="0.9"/>
<line x1="401.70" y1="530.00" x2="404.30" y2="530.00" stroke="#1f4877" stroke-width="0.9"/>
<line x1="401.70" y1="534.00" x2="404.30" y2="534.00" stroke="#1f4877" stroke-width="0.9"/>
<polyline points="325.00,569.50 338.75,568.00 351.25,567.00 364.50,555.00 377.00,554.25 390.50,535.50 403.00,532.00 416.70,557.30 429.00,558.30 442.70,575.60 455.40,577.10 467.70,577.50" stroke="#1f4877" stroke-width="1.45" fill="none" stroke-linejoin="round"/>
<path d="M325.00,567.63 L326.70,570.86 L323.30,570.86 Z" fill="#1f4877"/>
<path d="M338.75,566.13 L340.45,569.36 L337.05,569.36 Z" fill="#1f4877"/>
<path d="M351.25,565.13 L352.95,568.36 L349.55,568.36 Z" fill="#1f4877"/>
<path d="M364.50,553.13 L366.20,556.36 L362.80,556.36 Z" fill="#1f4877"/>
<path d="M377.00,552.38 L378.70,555.61 L375.30,555.61 Z" fill="#1f4877"/>
<path d="M390.50,533.63 L392.20,536.86 L388.80,536.86 Z" fill="#1f4877"/>
<path d="M403.00,530.13 L404.70,533.36 L401.30,533.36 Z" fill="#1f4877"/>
<path d="M416.70,555.43 L418.40,558.66 L415.00,558.66 Z" fill="#1f4877"/>
<path d="M429.00,556.43 L430.70,559.66 L427.30,559.66 Z" fill="#1f4877"/>
<path d="M442.70,573.73 L444.40,576.96 L441.00,576.96 Z" fill="#1f4877"/>
<path d="M455.40,575.23 L457.10,578.46 L453.70,578.46 Z" fill="#1f4877"/>
<path d="M467.70,575.63 L469.40,578.86 L466.00,578.86 Z" fill="#1f4877"/>
<polyline points="325.00,568.25 338.75,565.75 351.25,565.00 364.50,552.00 377.00,552.50 390.50,528.00 403.00,523.00 416.70,553.40 429.00,554.40 442.70,572.70 455.40,574.60 467.70,575.20" stroke="#b41331" stroke-width="1.45" fill="none" stroke-linejoin="round"/>
<rect x="323.15" y="566.40" width="3.70" height="3.70" fill="#b41331"/>
<rect x="336.90" y="563.90" width="3.70" height="3.70" fill="#b41331"/>
<rect x="349.40" y="563.15" width="3.70" height="3.70" fill="#b41331"/>
<rect x="362.65" y="550.15" width="3.70" height="3.70" fill="#b41331"/>
<rect x="375.15" y="550.65" width="3.70" height="3.70" fill="#b41331"/>
<rect x="388.65" y="526.15" width="3.70" height="3.70" fill="#b41331"/>
<rect x="401.15" y="521.15" width="3.70" height="3.70" fill="#b41331"/>
<rect x="414.85" y="551.55" width="3.70" height="3.70" fill="#b41331"/>
<rect x="427.15" y="552.55" width="3.70" height="3.70" fill="#b41331"/>
<rect x="440.85" y="570.85" width="3.70" height="3.70" fill="#b41331"/>
<rect x="453.55" y="572.75" width="3.70" height="3.70" fill="#b41331"/>
<rect x="465.85" y="573.35" width="3.70" height="3.70" fill="#b41331"/>
<rect x="96.25" y="365.70" width="5.05" height="26.30" fill="#8e9cc0"/>
<rect x="105.90" y="376.70" width="5.40" height="15.30" fill="#e7917f"/>
<rect x="122.20" y="371.90" width="5.80" height="20.10" fill="#8e9cc0"/>
<rect x="132.30" y="379.60" width="5.30" height="12.40" fill="#e7917f"/>
<rect x="148.90" y="387.30" width="4.90" height="4.70" fill="#8e9cc0"/>
<rect x="158.60" y="387.70" width="5.10" height="4.30" fill="#e7917f"/>
<rect x="174.90" y="338.00" width="5.30" height="54.00" fill="#8e9cc0"/>
<rect x="184.80" y="363.40" width="5.50" height="28.60" fill="#e7917f"/>
<rect x="201.30" y="365.50" width="4.70" height="26.50" fill="#8e9cc0"/>
<rect x="210.90" y="381.30" width="5.30" height="10.70" fill="#e7917f"/>
<rect x="227.20" y="386.00" width="5.20" height="6.00" fill="#8e9cc0"/>
<rect x="237.30" y="387.30" width="5.30" height="4.70" fill="#e7917f"/>
<line x1="98.78" y1="364.93" x2="98.78" y2="365.98" stroke="#1f4877" stroke-width="0.8"/>
<line x1="97.38" y1="364.93" x2="100.18" y2="364.93" stroke="#1f4877" stroke-width="0.8"/>
<line x1="97.38" y1="365.98" x2="100.18" y2="365.98" stroke="#1f4877" stroke-width="0.8"/>
<path d="M97.88,361.57 L99.62,364.90 L96.12,364.90 Z" fill="#1f4877"/>
<path d="M99.68,362.57 L101.43,365.90 L97.93,365.90 Z" fill="#1f4877"/>
<path d="M98.38,363.57 L100.12,366.90 L96.62,366.90 Z" fill="#1f4877"/>
<path d="M99.48,364.57 L101.23,367.90 L97.73,367.90 Z" fill="#1f4877"/>
<path d="M97.98,363.07 L99.73,366.40 L96.23,366.40 Z" fill="#1f4877"/>
<line x1="108.60" y1="373.83" x2="108.60" y2="376.11" stroke="#b41331" stroke-width="0.8"/>
<line x1="107.20" y1="373.83" x2="110.00" y2="373.83" stroke="#b41331" stroke-width="0.8"/>
<line x1="107.20" y1="376.11" x2="110.00" y2="376.11" stroke="#b41331" stroke-width="0.8"/>
<rect x="106.00" y="366.80" width="3.40" height="3.40" fill="#b41331"/>
<rect x="107.80" y="369.30" width="3.40" height="3.40" fill="#b41331"/>
<rect x="106.50" y="371.30" width="3.40" height="3.40" fill="#b41331"/>
<rect x="107.60" y="373.30" width="3.40" height="3.40" fill="#b41331"/>
<rect x="106.10" y="372.30" width="3.40" height="3.40" fill="#b41331"/>
<line x1="125.10" y1="371.24" x2="125.10" y2="372.11" stroke="#1f4877" stroke-width="0.8"/>
<line x1="123.70" y1="371.24" x2="126.50" y2="371.24" stroke="#1f4877" stroke-width="0.8"/>
<line x1="123.70" y1="372.11" x2="126.50" y2="372.11" stroke="#1f4877" stroke-width="0.8"/>
<path d="M124.20,368.07 L125.95,371.40 L122.45,371.40 Z" fill="#1f4877"/>
<path d="M126.00,369.57 L127.75,372.90 L124.25,372.90 Z" fill="#1f4877"/>
<path d="M124.70,369.07 L126.45,372.40 L122.95,372.40 Z" fill="#1f4877"/>
<path d="M125.80,370.57 L127.55,373.90 L124.05,373.90 Z" fill="#1f4877"/>
<line x1="134.95" y1="377.47" x2="134.95" y2="379.74" stroke="#b41331" stroke-width="0.8"/>
<line x1="133.55" y1="377.47" x2="136.35" y2="377.47" stroke="#b41331" stroke-width="0.8"/>
<line x1="133.55" y1="379.74" x2="136.35" y2="379.74" stroke="#b41331" stroke-width="0.8"/>
<rect x="132.35" y="371.80" width="3.40" height="3.40" fill="#b41331"/>
<rect x="134.15" y="374.30" width="3.40" height="3.40" fill="#b41331"/>
<rect x="132.85" y="376.30" width="3.40" height="3.40" fill="#b41331"/>
<rect x="133.95" y="378.30" width="3.40" height="3.40" fill="#b41331"/>
<rect x="132.45" y="375.80" width="3.40" height="3.40" fill="#b41331"/>
<line x1="151.35" y1="386.85" x2="151.35" y2="387.37" stroke="#1f4877" stroke-width="0.8"/>
<line x1="149.95" y1="386.85" x2="152.75" y2="386.85" stroke="#1f4877" stroke-width="0.8"/>
<line x1="149.95" y1="387.37" x2="152.75" y2="387.37" stroke="#1f4877" stroke-width="0.8"/>
<path d="M150.45,384.07 L152.20,387.40 L148.70,387.40 Z" fill="#1f4877"/>
<path d="M152.25,385.07 L154.00,388.40 L150.50,388.40 Z" fill="#1f4877"/>
<path d="M150.95,384.57 L152.70,387.90 L149.20,387.90 Z" fill="#1f4877"/>
<path d="M152.05,385.57 L153.80,388.90 L150.30,388.90 Z" fill="#1f4877"/>
<line x1="161.15" y1="387.28" x2="161.15" y2="387.81" stroke="#b41331" stroke-width="0.8"/>
<line x1="159.75" y1="387.28" x2="162.55" y2="387.28" stroke="#b41331" stroke-width="0.8"/>
<line x1="159.75" y1="387.81" x2="162.55" y2="387.81" stroke="#b41331" stroke-width="0.8"/>
<rect x="158.55" y="384.80" width="3.40" height="3.40" fill="#b41331"/>
<rect x="160.35" y="385.80" width="3.40" height="3.40" fill="#b41331"/>
<rect x="159.05" y="385.30" width="3.40" height="3.40" fill="#b41331"/>
<rect x="160.15" y="386.30" width="3.40" height="3.40" fill="#b41331"/>
<line x1="177.55" y1="336.43" x2="177.55" y2="339.57" stroke="#1f4877" stroke-width="0.8"/>
<line x1="176.15" y1="336.43" x2="178.95" y2="336.43" stroke="#1f4877" stroke-width="0.8"/>
<line x1="176.15" y1="339.57" x2="178.95" y2="339.57" stroke="#1f4877" stroke-width="0.8"/>
<path d="M176.65,331.57 L178.40,334.90 L174.90,334.90 Z" fill="#1f4877"/>
<path d="M178.45,334.07 L180.20,337.40 L176.70,337.40 Z" fill="#1f4877"/>
<path d="M177.15,336.57 L178.90,339.90 L175.40,339.90 Z" fill="#1f4877"/>
<path d="M178.25,338.57 L180.00,341.90 L176.50,341.90 Z" fill="#1f4877"/>
<path d="M176.75,340.57 L178.50,343.90 L175.00,343.90 Z" fill="#1f4877"/>
<line x1="187.55" y1="359.76" x2="187.55" y2="365.88" stroke="#b41331" stroke-width="0.8"/>
<line x1="186.15" y1="359.76" x2="188.95" y2="359.76" stroke="#b41331" stroke-width="0.8"/>
<line x1="186.15" y1="365.88" x2="188.95" y2="365.88" stroke="#b41331" stroke-width="0.8"/>
<rect x="184.95" y="351.30" width="3.40" height="3.40" fill="#b41331"/>
<rect x="186.75" y="358.30" width="3.40" height="3.40" fill="#b41331"/>
<rect x="185.45" y="361.30" width="3.40" height="3.40" fill="#b41331"/>
<rect x="186.55" y="364.30" width="3.40" height="3.40" fill="#b41331"/>
<rect x="185.05" y="368.80" width="3.40" height="3.40" fill="#b41331"/>
<line x1="203.65" y1="363.75" x2="203.65" y2="367.60" stroke="#1f4877" stroke-width="0.8"/>
<line x1="202.25" y1="363.75" x2="205.05" y2="363.75" stroke="#1f4877" stroke-width="0.8"/>
<line x1="202.25" y1="367.60" x2="205.05" y2="367.60" stroke="#1f4877" stroke-width="0.8"/>
<path d="M202.75,358.57 L204.50,361.90 L201.00,361.90 Z" fill="#1f4877"/>
<path d="M204.55,361.07 L206.30,364.40 L202.80,364.40 Z" fill="#1f4877"/>
<path d="M203.25,363.57 L205.00,366.90 L201.50,366.90 Z" fill="#1f4877"/>
<path d="M204.35,366.07 L206.10,369.40 L202.60,369.40 Z" fill="#1f4877"/>
<path d="M202.85,369.57 L204.60,372.90 L201.10,372.90 Z" fill="#1f4877"/>
<line x1="213.55" y1="379.27" x2="213.55" y2="383.82" stroke="#b41331" stroke-width="0.8"/>
<line x1="212.15" y1="379.27" x2="214.95" y2="379.27" stroke="#b41331" stroke-width="0.8"/>
<line x1="212.15" y1="383.82" x2="214.95" y2="383.82" stroke="#b41331" stroke-width="0.8"/>
<rect x="210.95" y="373.80" width="3.40" height="3.40" fill="#b41331"/>
<rect x="212.75" y="376.30" width="3.40" height="3.40" fill="#b41331"/>
<rect x="211.45" y="379.30" width="3.40" height="3.40" fill="#b41331"/>
<rect x="212.55" y="382.30" width="3.40" height="3.40" fill="#b41331"/>
<rect x="211.05" y="386.80" width="3.40" height="3.40" fill="#b41331"/>
<line x1="229.80" y1="384.77" x2="229.80" y2="386.00" stroke="#1f4877" stroke-width="0.8"/>
<line x1="228.40" y1="384.77" x2="231.20" y2="384.77" stroke="#1f4877" stroke-width="0.8"/>
<line x1="228.40" y1="386.00" x2="231.20" y2="386.00" stroke="#1f4877" stroke-width="0.8"/>
<path d="M228.90,380.57 L230.65,383.90 L227.15,383.90 Z" fill="#1f4877"/>
<path d="M230.70,382.57 L232.45,385.90 L228.95,385.90 Z" fill="#1f4877"/>
<path d="M229.40,384.07 L231.15,387.40 L227.65,387.40 Z" fill="#1f4877"/>
<path d="M230.50,383.07 L232.25,386.40 L228.75,386.40 Z" fill="#1f4877"/>
<line x1="239.95" y1="386.50" x2="239.95" y2="387.72" stroke="#b41331" stroke-width="0.8"/>
<line x1="238.55" y1="386.50" x2="241.35" y2="386.50" stroke="#b41331" stroke-width="0.8"/>
<line x1="238.55" y1="387.72" x2="241.35" y2="387.72" stroke="#b41331" stroke-width="0.8"/>
<rect x="237.35" y="383.30" width="3.40" height="3.40" fill="#b41331"/>
<rect x="239.15" y="384.80" width="3.40" height="3.40" fill="#b41331"/>
<rect x="237.85" y="385.80" width="3.40" height="3.40" fill="#b41331"/>
<rect x="238.95" y="386.80" width="3.40" height="3.40" fill="#b41331"/>
<line x1="92.30" y1="302.50" x2="92.30" y2="392.50" stroke="#231f20" stroke-width="1.1"/>
<line x1="91.80" y1="392.00" x2="246.00" y2="392.00" stroke="#231f20" stroke-width="1.1"/>
<line x1="89.30" y1="392.00" x2="92.30" y2="392.00" stroke="#231f20" stroke-width="1"/>
<text x="87.20" y="395.30" font-size="9.3" text-anchor="end">0</text>
<line x1="89.30" y1="363.00" x2="92.30" y2="363.00" stroke="#231f20" stroke-width="1"/>
<text x="87.20" y="366.30" font-size="9.3" text-anchor="end">50</text>
<line x1="89.30" y1="333.80" x2="92.30" y2="333.80" stroke="#231f20" stroke-width="1"/>
<text x="87.20" y="337.10" font-size="9.3" text-anchor="end">100</text>
<line x1="89.30" y1="304.70" x2="92.30" y2="304.70" stroke="#231f20" stroke-width="1"/>
<text x="87.20" y="308.00" font-size="9.3" text-anchor="end">150</text>
<line x1="103.50" y1="392.00" x2="103.50" y2="395.00" stroke="#231f20" stroke-width="1"/>
<line x1="129.70" y1="392.00" x2="129.70" y2="395.00" stroke="#231f20" stroke-width="1"/>
<line x1="155.90" y1="392.00" x2="155.90" y2="395.00" stroke="#231f20" stroke-width="1"/>
<line x1="182.10" y1="392.00" x2="182.10" y2="395.00" stroke="#231f20" stroke-width="1"/>
<line x1="208.30" y1="392.00" x2="208.30" y2="395.00" stroke="#231f20" stroke-width="1"/>
<line x1="234.50" y1="392.00" x2="234.50" y2="395.00" stroke="#231f20" stroke-width="1"/>
<text x="107.50" y="404.00" font-size="9.6" text-anchor="end" textLength="22.33" lengthAdjust="spacingAndGlyphs" transform="rotate(-45 107.50 404.00)">Basal</text>
<text x="133.70" y="404.00" font-size="9.6" text-anchor="end" textLength="33.07" lengthAdjust="spacingAndGlyphs" transform="rotate(-45 133.70 404.00)">ATP-link</text>
<text x="159.90" y="404.00" font-size="9.6" text-anchor="end" textLength="45.16" lengthAdjust="spacingAndGlyphs" transform="rotate(-45 159.90 404.00)">Proton leak</text>
<text x="186.10" y="404.00" font-size="9.6" text-anchor="end" textLength="33.23" lengthAdjust="spacingAndGlyphs" transform="rotate(-45 186.10 404.00)">Maximal</text>
<text x="212.30" y="404.00" font-size="9.6" text-anchor="end" textLength="51.11" lengthAdjust="spacingAndGlyphs" transform="rotate(-45 212.30 404.00)">Res capacity</text>
<text x="238.50" y="404.00" font-size="9.6" text-anchor="end" textLength="36.22" lengthAdjust="spacingAndGlyphs" transform="rotate(-45 238.50 404.00)">Non-mito</text>
<text x="63.60" y="375.50" font-size="10.6" textLength="60.90" lengthAdjust="spacingAndGlyphs" transform="rotate(-90 63.60 375.50)">OCR (pmol/min)</text>
<line x1="99.10" y1="359.20" x2="108.70" y2="359.20" stroke="#231f20" stroke-width="1.3"/>
<text x="103.90" y="358.30" font-size="9" text-anchor="middle" font-weight="bold">**</text>
<line x1="125.10" y1="365.40" x2="134.70" y2="365.40" stroke="#231f20" stroke-width="1.3"/>
<text x="129.90" y="364.50" font-size="9" text-anchor="middle" font-weight="bold">*</text>
<line x1="177.60" y1="329.10" x2="187.60" y2="329.10" stroke="#231f20" stroke-width="1.3"/>
<text x="182.60" y="328.40" font-size="9" text-anchor="middle" font-weight="bold">***</text>
<line x1="204.00" y1="354.90" x2="214.00" y2="354.90" stroke="#231f20" stroke-width="1.3"/>
<text x="209.00" y="353.80" font-size="9" text-anchor="middle" font-weight="bold">***</text>
<path d="M101.20,309.55 L102.70,312.40 L99.70,312.40 Z" fill="#1f4877"/>
<rect x="99.60" y="322.20" width="3.20" height="3.20" fill="#b41331"/>
<text x="105.40" y="313.60" font-size="9.5" textLength="28.10" lengthAdjust="spacingAndGlyphs">Vehicle</text>
<text x="105.40" y="326.00" font-size="9.5" textLength="48.90" lengthAdjust="spacingAndGlyphs">Nilotinib(2d)</text>
<rect x="327.70" y="361.40" width="4.60" height="30.60" fill="#8e9cc0"/>
<rect x="336.50" y="369.80" width="5.30" height="22.20" fill="#e7917f"/>
<rect x="351.80" y="377.20" width="4.80" height="14.80" fill="#8e9cc0"/>
<rect x="360.90" y="380.40" width="5.30" height="11.60" fill="#e7917f"/>
<rect x="375.70" y="359.20" width="4.80" height="32.80" fill="#8e9cc0"/>
<rect x="384.80" y="369.80" width="5.10" height="22.20" fill="#e7917f"/>
<rect x="400.10" y="352.90" width="4.90" height="39.10" fill="#8e9cc0"/>
<rect x="409.00" y="364.50" width="4.80" height="27.50" fill="#e7917f"/>
<rect x="424.00" y="326.40" width="5.10" height="65.60" fill="#8e9cc0"/>
<rect x="432.90" y="345.50" width="5.30" height="46.50" fill="#e7917f"/>
<rect x="448.30" y="379.30" width="4.70" height="12.70" fill="#8e9cc0"/>
<rect x="457.20" y="382.90" width="4.90" height="9.10" fill="#e7917f"/>
<line x1="330.00" y1="360.91" x2="330.00" y2="362.49" stroke="#1f4877" stroke-width="0.8"/>
<line x1="328.60" y1="360.91" x2="331.40" y2="360.91" stroke="#1f4877" stroke-width="0.8"/>
<line x1="328.60" y1="362.49" x2="331.40" y2="362.49" stroke="#1f4877" stroke-width="0.8"/>
<path d="M329.10,358.07 L330.85,361.40 L327.35,361.40 Z" fill="#1f4877"/>
<path d="M330.90,359.57 L332.65,362.90 L329.15,362.90 Z" fill="#1f4877"/>
<path d="M329.60,361.07 L331.35,364.40 L327.85,364.40 Z" fill="#1f4877"/>
<path d="M330.70,362.57 L332.45,365.90 L328.95,365.90 Z" fill="#1f4877"/>
<line x1="339.15" y1="368.12" x2="339.15" y2="370.39" stroke="#b41331" stroke-width="0.8"/>
<line x1="337.75" y1="368.12" x2="340.55" y2="368.12" stroke="#b41331" stroke-width="0.8"/>
<line x1="337.75" y1="370.39" x2="340.55" y2="370.39" stroke="#b41331" stroke-width="0.8"/>
<rect x="336.55" y="363.30" width="3.40" height="3.40" fill="#b41331"/>
<rect x="338.35" y="365.80" width="3.40" height="3.40" fill="#b41331"/>
<rect x="337.05" y="367.80" width="3.40" height="3.40" fill="#b41331"/>
<rect x="338.15" y="369.80" width="3.40" height="3.40" fill="#b41331"/>
<line x1="354.20" y1="376.78" x2="354.20" y2="377.48" stroke="#1f4877" stroke-width="0.8"/>
<line x1="352.80" y1="376.78" x2="355.60" y2="376.78" stroke="#1f4877" stroke-width="0.8"/>
<line x1="352.80" y1="377.48" x2="355.60" y2="377.48" stroke="#1f4877" stroke-width="0.8"/>
<path d="M353.30,374.07 L355.05,377.40 L351.55,377.40 Z" fill="#1f4877"/>
<path d="M355.10,375.07 L356.85,378.40 L353.35,378.40 Z" fill="#1f4877"/>
<path d="M353.80,375.57 L355.55,378.90 L352.05,378.90 Z" fill="#1f4877"/>
<path d="M354.90,376.07 L356.65,379.40 L353.15,379.40 Z" fill="#1f4877"/>
<line x1="363.55" y1="378.69" x2="363.55" y2="381.49" stroke="#b41331" stroke-width="0.8"/>
<line x1="362.15" y1="378.69" x2="364.95" y2="378.69" stroke="#b41331" stroke-width="0.8"/>
<line x1="362.15" y1="381.49" x2="364.95" y2="381.49" stroke="#b41331" stroke-width="0.8"/>
<rect x="360.95" y="373.80" width="3.40" height="3.40" fill="#b41331"/>
<rect x="362.75" y="376.80" width="3.40" height="3.40" fill="#b41331"/>
<rect x="361.45" y="379.30" width="3.40" height="3.40" fill="#b41331"/>
<rect x="362.55" y="381.80" width="3.40" height="3.40" fill="#b41331"/>
<line x1="378.10" y1="357.73" x2="378.10" y2="359.83" stroke="#1f4877" stroke-width="0.8"/>
<line x1="376.70" y1="357.73" x2="379.50" y2="357.73" stroke="#1f4877" stroke-width="0.8"/>
<line x1="376.70" y1="359.83" x2="379.50" y2="359.83" stroke="#1f4877" stroke-width="0.8"/>
<path d="M377.20,353.07 L378.95,356.40 L375.45,356.40 Z" fill="#1f4877"/>
<path d="M379.00,355.57 L380.75,358.90 L377.25,358.90 Z" fill="#1f4877"/>
<path d="M377.70,357.57 L379.45,360.90 L375.95,360.90 Z" fill="#1f4877"/>
<path d="M378.80,359.07 L380.55,362.40 L377.05,362.40 Z" fill="#1f4877"/>
<line x1="387.35" y1="369.00" x2="387.35" y2="371.10" stroke="#b41331" stroke-width="0.8"/>
<line x1="385.95" y1="369.00" x2="388.75" y2="369.00" stroke="#b41331" stroke-width="0.8"/>
<line x1="385.95" y1="371.10" x2="388.75" y2="371.10" stroke="#b41331" stroke-width="0.8"/>
<rect x="384.75" y="365.80" width="3.40" height="3.40" fill="#b41331"/>
<rect x="386.55" y="367.80" width="3.40" height="3.40" fill="#b41331"/>
<rect x="385.25" y="369.30" width="3.40" height="3.40" fill="#b41331"/>
<rect x="386.35" y="371.80" width="3.40" height="3.40" fill="#b41331"/>
<line x1="402.55" y1="351.01" x2="402.55" y2="353.46" stroke="#1f4877" stroke-width="0.8"/>
<line x1="401.15" y1="351.01" x2="403.95" y2="351.01" stroke="#1f4877" stroke-width="0.8"/>
<line x1="401.15" y1="353.46" x2="403.95" y2="353.46" stroke="#1f4877" stroke-width="0.8"/>
<path d="M401.65,345.57 L403.40,348.90 L399.90,348.90 Z" fill="#1f4877"/>
<path d="M403.45,348.07 L405.20,351.40 L401.70,351.40 Z" fill="#1f4877"/>
<path d="M402.15,350.57 L403.90,353.90 L400.40,353.90 Z" fill="#1f4877"/>
<path d="M403.25,352.57 L405.00,355.90 L401.50,355.90 Z" fill="#1f4877"/>
<line x1="411.40" y1="362.23" x2="411.40" y2="365.55" stroke="#b41331" stroke-width="0.8"/>
<line x1="410.00" y1="362.23" x2="412.80" y2="362.23" stroke="#b41331" stroke-width="0.8"/>
<line x1="410.00" y1="365.55" x2="412.80" y2="365.55" stroke="#b41331" stroke-width="0.8"/>
<rect x="408.80" y="356.30" width="3.40" height="3.40" fill="#b41331"/>
<rect x="410.60" y="359.30" width="3.40" height="3.40" fill="#b41331"/>
<rect x="409.30" y="362.30" width="3.40" height="3.40" fill="#b41331"/>
<rect x="410.40" y="364.30" width="3.40" height="3.40" fill="#b41331"/>
<rect x="408.90" y="365.80" width="3.40" height="3.40" fill="#b41331"/>
<line x1="426.55" y1="324.33" x2="426.55" y2="326.78" stroke="#1f4877" stroke-width="0.8"/>
<line x1="425.15" y1="324.33" x2="427.95" y2="324.33" stroke="#1f4877" stroke-width="0.8"/>
<line x1="425.15" y1="326.78" x2="427.95" y2="326.78" stroke="#1f4877" stroke-width="0.8"/>
<path d="M425.65,318.57 L427.40,321.90 L423.90,321.90 Z" fill="#1f4877"/>
<path d="M427.45,321.07 L429.20,324.40 L425.70,324.40 Z" fill="#1f4877"/>
<path d="M426.15,323.57 L427.90,326.90 L424.40,326.90 Z" fill="#1f4877"/>
<path d="M427.25,325.57 L429.00,328.90 L425.50,328.90 Z" fill="#1f4877"/>
<line x1="435.55" y1="342.35" x2="435.55" y2="347.43" stroke="#b41331" stroke-width="0.8"/>
<line x1="434.15" y1="342.35" x2="436.95" y2="342.35" stroke="#b41331" stroke-width="0.8"/>
<line x1="434.15" y1="347.43" x2="436.95" y2="347.43" stroke="#b41331" stroke-width="0.8"/>
<rect x="432.95" y="334.80" width="3.40" height="3.40" fill="#b41331"/>
<rect x="434.75" y="339.30" width="3.40" height="3.40" fill="#b41331"/>
<rect x="433.45" y="342.30" width="3.40" height="3.40" fill="#b41331"/>
<rect x="434.55" y="345.30" width="3.40" height="3.40" fill="#b41331"/>
<rect x="433.05" y="349.30" width="3.40" height="3.40" fill="#b41331"/>
<line x1="450.65" y1="378.85" x2="450.65" y2="379.55" stroke="#1f4877" stroke-width="0.8"/>
<line x1="449.25" y1="378.85" x2="452.05" y2="378.85" stroke="#1f4877" stroke-width="0.8"/>
<line x1="449.25" y1="379.55" x2="452.05" y2="379.55" stroke="#1f4877" stroke-width="0.8"/>
<path d="M449.75,376.07 L451.50,379.40 L448.00,379.40 Z" fill="#1f4877"/>
<path d="M451.55,377.07 L453.30,380.40 L449.80,380.40 Z" fill="#1f4877"/>
<path d="M450.25,378.07 L452.00,381.40 L448.50,381.40 Z" fill="#1f4877"/>
<line x1="459.65" y1="382.24" x2="459.65" y2="383.63" stroke="#b41331" stroke-width="0.8"/>
<line x1="458.25" y1="382.24" x2="461.05" y2="382.24" stroke="#b41331" stroke-width="0.8"/>
<line x1="458.25" y1="383.63" x2="461.05" y2="383.63" stroke="#b41331" stroke-width="0.8"/>
<rect x="457.05" y="379.30" width="3.40" height="3.40" fill="#b41331"/>
<rect x="458.85" y="380.80" width="3.40" height="3.40" fill="#b41331"/>
<rect x="457.55" y="382.30" width="3.40" height="3.40" fill="#b41331"/>
<rect x="458.65" y="383.30" width="3.40" height="3.40" fill="#b41331"/>
<line x1="323.40" y1="308.00" x2="323.40" y2="392.50" stroke="#231f20" stroke-width="1.1"/>
<line x1="322.90" y1="392.00" x2="465.70" y2="392.00" stroke="#231f20" stroke-width="1.1"/>
<line x1="320.40" y1="392.00" x2="323.40" y2="392.00" stroke="#231f20" stroke-width="1"/>
<text x="318.20" y="395.30" font-size="9.3" text-anchor="end">0</text>
<line x1="320.40" y1="365.20" x2="323.40" y2="365.20" stroke="#231f20" stroke-width="1"/>
<text x="318.20" y="368.50" font-size="9.3" text-anchor="end">10</text>
<line x1="320.40" y1="338.10" x2="323.40" y2="338.10" stroke="#231f20" stroke-width="1"/>
<text x="318.20" y="341.40" font-size="9.3" text-anchor="end">20</text>
<line x1="320.40" y1="310.20" x2="323.40" y2="310.20" stroke="#231f20" stroke-width="1"/>
<text x="318.20" y="313.50" font-size="9.3" text-anchor="end">30</text>
<line x1="334.00" y1="392.00" x2="334.00" y2="395.00" stroke="#231f20" stroke-width="1"/>
<line x1="358.12" y1="392.00" x2="358.12" y2="395.00" stroke="#231f20" stroke-width="1"/>
<line x1="382.24" y1="392.00" x2="382.24" y2="395.00" stroke="#231f20" stroke-width="1"/>
<line x1="406.36" y1="392.00" x2="406.36" y2="395.00" stroke="#231f20" stroke-width="1"/>
<line x1="430.48" y1="392.00" x2="430.48" y2="395.00" stroke="#231f20" stroke-width="1"/>
<line x1="454.60" y1="392.00" x2="454.60" y2="395.00" stroke="#231f20" stroke-width="1"/>
<text x="338.00" y="404.00" font-size="9.6" text-anchor="end" textLength="22.33" lengthAdjust="spacingAndGlyphs" transform="rotate(-45 338.00 404.00)">Basal</text>
<text x="362.12" y="404.00" font-size="9.6" text-anchor="end" textLength="55.56" lengthAdjust="spacingAndGlyphs" transform="rotate(-45 362.12 404.00)">Glyco-reserve</text>
<text x="386.24" y="404.00" font-size="9.6" text-anchor="end" textLength="62.01" lengthAdjust="spacingAndGlyphs" transform="rotate(-45 386.24 404.00)">FCCP-sensitive</text>
<text x="410.36" y="404.00" font-size="9.6" text-anchor="end" textLength="59.05" lengthAdjust="spacingAndGlyphs" transform="rotate(-45 410.36 404.00)">AntiA-sensitive</text>
<text x="434.48" y="404.00" font-size="9.6" text-anchor="end" textLength="40.19" lengthAdjust="spacingAndGlyphs" transform="rotate(-45 434.48 404.00)">Max glyco</text>
<text x="458.60" y="404.00" font-size="9.6" text-anchor="end" textLength="67.48" lengthAdjust="spacingAndGlyphs" transform="rotate(-45 458.60 404.00)">Non-glyco ECAR</text>
<text x="296.00" y="383.80" font-size="10.6" textLength="68.10" lengthAdjust="spacingAndGlyphs" transform="rotate(-90 296.00 383.80)">ECAR (mpHl/min)</text>
<line x1="329.90" y1="354.60" x2="338.90" y2="354.60" stroke="#231f20" stroke-width="1.3"/>
<text x="334.40" y="354.30" font-size="9" text-anchor="middle" font-weight="bold">**</text>
<line x1="377.40" y1="350.80" x2="387.40" y2="350.80" stroke="#231f20" stroke-width="1.3"/>
<text x="382.40" y="350.10" font-size="9" text-anchor="middle" font-weight="bold">***</text>
<line x1="401.60" y1="343.00" x2="412.00" y2="343.00" stroke="#231f20" stroke-width="1.3"/>
<text x="406.80" y="342.70" font-size="9" text-anchor="middle" font-weight="bold">***</text>
<line x1="425.90" y1="316.30" x2="436.30" y2="316.30" stroke="#231f20" stroke-width="1.3"/>
<text x="431.10" y="315.60" font-size="9" text-anchor="middle" font-weight="bold">***</text>
<path d="M328.70,312.75 L330.20,315.60 L327.20,315.60 Z" fill="#1f4877"/>
<rect x="327.10" y="325.50" width="3.20" height="3.20" fill="#b41331"/>
<text x="333.40" y="317.30" font-size="9.5" textLength="27.50" lengthAdjust="spacingAndGlyphs">Vehicle</text>
<text x="333.40" y="330.00" font-size="9.5" textLength="48.60" lengthAdjust="spacingAndGlyphs">Nilotinib(2d)</text>
<rect x="96.10" y="702.20" width="5.70" height="21.80" fill="#8e9cc0"/>
<rect x="106.10" y="698.00" width="5.70" height="26.00" fill="#e7917f"/>
<rect x="121.90" y="707.50" width="5.30" height="16.50" fill="#8e9cc0"/>
<rect x="132.10" y="702.20" width="5.70" height="21.80" fill="#e7917f"/>
<rect x="148.90" y="719.90" width="4.90" height="4.10" fill="#8e9cc0"/>
<rect x="158.60" y="717.80" width="5.10" height="6.20" fill="#e7917f"/>
<rect x="174.90" y="672.30" width="5.30" height="51.70" fill="#8e9cc0"/>
<rect x="184.40" y="649.00" width="5.70" height="75.00" fill="#e7917f"/>
<rect x="201.30" y="691.30" width="4.70" height="32.70" fill="#8e9cc0"/>
<rect x="210.90" y="678.70" width="5.30" height="45.30" fill="#e7917f"/>
<rect x="227.20" y="718.90" width="5.20" height="5.10" fill="#8e9cc0"/>
<rect x="236.90" y="717.80" width="5.70" height="6.20" fill="#e7917f"/>
<line x1="98.95" y1="700.73" x2="98.95" y2="704.40" stroke="#1f4877" stroke-width="0.8"/>
<line x1="97.55" y1="700.73" x2="100.35" y2="700.73" stroke="#1f4877" stroke-width="0.8"/>
<line x1="97.55" y1="704.40" x2="100.35" y2="704.40" stroke="#1f4877" stroke-width="0.8"/>
<path d="M98.05,696.08 L99.80,699.40 L96.30,699.40 Z" fill="#1f4877"/>
<path d="M99.85,699.08 L101.60,702.40 L98.10,702.40 Z" fill="#1f4877"/>
<path d="M98.55,701.58 L100.30,704.90 L96.80,704.90 Z" fill="#1f4877"/>
<path d="M99.65,704.08 L101.40,707.40 L97.90,707.40 Z" fill="#1f4877"/>
<path d="M98.15,706.58 L99.90,709.90 L96.40,709.90 Z" fill="#1f4877"/>
<line x1="108.95" y1="696.60" x2="108.95" y2="698.52" stroke="#b41331" stroke-width="0.8"/>
<line x1="107.55" y1="696.60" x2="110.35" y2="696.60" stroke="#b41331" stroke-width="0.8"/>
<line x1="107.55" y1="698.52" x2="110.35" y2="698.52" stroke="#b41331" stroke-width="0.8"/>
<rect x="106.35" y="692.30" width="3.40" height="3.40" fill="#b41331"/>
<rect x="108.15" y="694.30" width="3.40" height="3.40" fill="#b41331"/>
<rect x="106.85" y="696.30" width="3.40" height="3.40" fill="#b41331"/>
<rect x="107.95" y="697.80" width="3.40" height="3.40" fill="#b41331"/>
<line x1="124.55" y1="706.10" x2="124.55" y2="708.90" stroke="#1f4877" stroke-width="0.8"/>
<line x1="123.15" y1="706.10" x2="125.95" y2="706.10" stroke="#1f4877" stroke-width="0.8"/>
<line x1="123.15" y1="708.90" x2="125.95" y2="708.90" stroke="#1f4877" stroke-width="0.8"/>
<path d="M123.65,701.58 L125.40,704.90 L121.90,704.90 Z" fill="#1f4877"/>
<path d="M125.45,704.08 L127.20,707.40 L123.70,707.40 Z" fill="#1f4877"/>
<path d="M124.15,706.58 L125.90,709.90 L122.40,709.90 Z" fill="#1f4877"/>
<path d="M125.25,709.58 L127.00,712.90 L123.50,712.90 Z" fill="#1f4877"/>
<line x1="134.95" y1="701.43" x2="134.95" y2="703.18" stroke="#b41331" stroke-width="0.8"/>
<line x1="133.55" y1="701.43" x2="136.35" y2="701.43" stroke="#b41331" stroke-width="0.8"/>
<line x1="133.55" y1="703.18" x2="136.35" y2="703.18" stroke="#b41331" stroke-width="0.8"/>
<rect x="132.35" y="698.30" width="3.40" height="3.40" fill="#b41331"/>
<rect x="134.15" y="700.30" width="3.40" height="3.40" fill="#b41331"/>
<rect x="132.85" y="701.80" width="3.40" height="3.40" fill="#b41331"/>
<rect x="133.95" y="703.30" width="3.40" height="3.40" fill="#b41331"/>
<line x1="151.35" y1="719.06" x2="151.35" y2="720.11" stroke="#1f4877" stroke-width="0.8"/>
<line x1="149.95" y1="719.06" x2="152.75" y2="719.06" stroke="#1f4877" stroke-width="0.8"/>
<line x1="149.95" y1="720.11" x2="152.75" y2="720.11" stroke="#1f4877" stroke-width="0.8"/>
<path d="M150.45,715.58 L152.20,718.90 L148.70,718.90 Z" fill="#1f4877"/>
<path d="M152.25,717.08 L154.00,720.40 L150.50,720.40 Z" fill="#1f4877"/>
<path d="M150.95,718.58 L152.70,721.90 L149.20,721.90 Z" fill="#1f4877"/>
<line x1="161.15" y1="717.35" x2="161.15" y2="718.39" stroke="#b41331" stroke-width="0.8"/>
<line x1="159.75" y1="717.35" x2="162.55" y2="717.35" stroke="#b41331" stroke-width="0.8"/>
<line x1="159.75" y1="718.39" x2="162.55" y2="718.39" stroke="#b41331" stroke-width="0.8"/>
<rect x="158.55" y="714.80" width="3.40" height="3.40" fill="#b41331"/>
<rect x="160.35" y="715.80" width="3.40" height="3.40" fill="#b41331"/>
<rect x="159.05" y="716.80" width="3.40" height="3.40" fill="#b41331"/>
<rect x="160.15" y="717.80" width="3.40" height="3.40" fill="#b41331"/>
<line x1="177.55" y1="666.25" x2="177.55" y2="677.27" stroke="#1f4877" stroke-width="0.8"/>
<line x1="176.15" y1="666.25" x2="178.95" y2="666.25" stroke="#1f4877" stroke-width="0.8"/>
<line x1="176.15" y1="677.27" x2="178.95" y2="677.27" stroke="#1f4877" stroke-width="0.8"/>
<path d="M176.65,653.08 L178.40,656.40 L174.90,656.40 Z" fill="#1f4877"/>
<path d="M178.45,666.08 L180.20,669.40 L176.70,669.40 Z" fill="#1f4877"/>
<path d="M177.15,670.08 L178.90,673.40 L175.40,673.40 Z" fill="#1f4877"/>
<path d="M178.25,674.08 L180.00,677.40 L176.50,677.40 Z" fill="#1f4877"/>
<path d="M176.75,679.08 L178.50,682.40 L175.00,682.40 Z" fill="#1f4877"/>
<path d="M177.75,684.58 L179.50,687.90 L176.00,687.90 Z" fill="#1f4877"/>
<line x1="187.25" y1="646.73" x2="187.25" y2="652.67" stroke="#b41331" stroke-width="0.8"/>
<line x1="185.85" y1="646.73" x2="188.65" y2="646.73" stroke="#b41331" stroke-width="0.8"/>
<line x1="185.85" y1="652.67" x2="188.65" y2="652.67" stroke="#b41331" stroke-width="0.8"/>
<rect x="184.65" y="640.80" width="3.40" height="3.40" fill="#b41331"/>
<rect x="186.45" y="643.30" width="3.40" height="3.40" fill="#b41331"/>
<rect x="185.15" y="647.30" width="3.40" height="3.40" fill="#b41331"/>
<rect x="186.25" y="650.30" width="3.40" height="3.40" fill="#b41331"/>
<rect x="184.75" y="653.80" width="3.40" height="3.40" fill="#b41331"/>
<rect x="185.75" y="657.80" width="3.40" height="3.40" fill="#b41331"/>
<line x1="203.65" y1="687.69" x2="203.65" y2="696.79" stroke="#1f4877" stroke-width="0.8"/>
<line x1="202.25" y1="687.69" x2="205.05" y2="687.69" stroke="#1f4877" stroke-width="0.8"/>
<line x1="202.25" y1="696.79" x2="205.05" y2="696.79" stroke="#1f4877" stroke-width="0.8"/>
<path d="M202.75,679.08 L204.50,682.40 L201.00,682.40 Z" fill="#1f4877"/>
<path d="M204.55,686.08 L206.30,689.40 L202.80,689.40 Z" fill="#1f4877"/>
<path d="M203.25,690.08 L205.00,693.40 L201.50,693.40 Z" fill="#1f4877"/>
<path d="M204.35,695.08 L206.10,698.40 L202.60,698.40 Z" fill="#1f4877"/>
<path d="M202.85,700.08 L204.60,703.40 L201.10,703.40 Z" fill="#1f4877"/>
<path d="M203.85,705.08 L205.60,708.40 L202.10,708.40 Z" fill="#1f4877"/>
<line x1="213.55" y1="675.48" x2="213.55" y2="681.61" stroke="#b41331" stroke-width="0.8"/>
<line x1="212.15" y1="675.48" x2="214.95" y2="675.48" stroke="#b41331" stroke-width="0.8"/>
<line x1="212.15" y1="681.61" x2="214.95" y2="681.61" stroke="#b41331" stroke-width="0.8"/>
<rect x="210.95" y="667.80" width="3.40" height="3.40" fill="#b41331"/>
<rect x="212.75" y="671.30" width="3.40" height="3.40" fill="#b41331"/>
<rect x="211.45" y="675.30" width="3.40" height="3.40" fill="#b41331"/>
<rect x="212.55" y="679.30" width="3.40" height="3.40" fill="#b41331"/>
<rect x="211.05" y="682.30" width="3.40" height="3.40" fill="#b41331"/>
<rect x="212.05" y="685.30" width="3.40" height="3.40" fill="#b41331"/>
<line x1="229.80" y1="718.24" x2="229.80" y2="719.28" stroke="#1f4877" stroke-width="0.8"/>
<line x1="228.40" y1="718.24" x2="231.20" y2="718.24" stroke="#1f4877" stroke-width="0.8"/>
<line x1="228.40" y1="719.28" x2="231.20" y2="719.28" stroke="#1f4877" stroke-width="0.8"/>
<path d="M228.90,715.08 L230.65,718.40 L227.15,718.40 Z" fill="#1f4877"/>
<path d="M230.70,716.58 L232.45,719.90 L228.95,719.90 Z" fill="#1f4877"/>
<path d="M229.40,718.08 L231.15,721.40 L227.65,721.40 Z" fill="#1f4877"/>
<line x1="239.75" y1="716.75" x2="239.75" y2="718.39" stroke="#b41331" stroke-width="0.8"/>
<line x1="238.35" y1="716.75" x2="241.15" y2="716.75" stroke="#b41331" stroke-width="0.8"/>
<line x1="238.35" y1="718.39" x2="241.15" y2="718.39" stroke="#b41331" stroke-width="0.8"/>
<rect x="237.15" y="713.10" width="3.40" height="3.40" fill="#b41331"/>
<rect x="238.95" y="714.80" width="3.40" height="3.40" fill="#b41331"/>
<rect x="237.65" y="716.30" width="3.40" height="3.40" fill="#b41331"/>
<rect x="238.75" y="717.80" width="3.40" height="3.40" fill="#b41331"/>
<line x1="92.50" y1="633.00" x2="92.50" y2="724.50" stroke="#231f20" stroke-width="1.1"/>
<line x1="92.00" y1="724.00" x2="246.00" y2="724.00" stroke="#231f20" stroke-width="1.1"/>
<line x1="89.50" y1="724.00" x2="92.50" y2="724.00" stroke="#231f20" stroke-width="1"/>
<text x="87.20" y="727.30" font-size="9.3" text-anchor="end">0</text>
<line x1="89.50" y1="694.80" x2="92.50" y2="694.80" stroke="#231f20" stroke-width="1"/>
<text x="87.20" y="698.10" font-size="9.3" text-anchor="end">50</text>
<line x1="89.50" y1="665.20" x2="92.50" y2="665.20" stroke="#231f20" stroke-width="1"/>
<text x="87.20" y="668.50" font-size="9.3" text-anchor="end">100</text>
<line x1="89.50" y1="635.20" x2="92.50" y2="635.20" stroke="#231f20" stroke-width="1"/>
<text x="87.20" y="638.50" font-size="9.3" text-anchor="end">150</text>
<line x1="103.50" y1="724.00" x2="103.50" y2="727.00" stroke="#231f20" stroke-width="1"/>
<line x1="129.65" y1="724.00" x2="129.65" y2="727.00" stroke="#231f20" stroke-width="1"/>
<line x1="155.80" y1="724.00" x2="155.80" y2="727.00" stroke="#231f20" stroke-width="1"/>
<line x1="181.95" y1="724.00" x2="181.95" y2="727.00" stroke="#231f20" stroke-width="1"/>
<line x1="208.10" y1="724.00" x2="208.10" y2="727.00" stroke="#231f20" stroke-width="1"/>
<line x1="234.25" y1="724.00" x2="234.25" y2="727.00" stroke="#231f20" stroke-width="1"/>
<text x="107.50" y="736.00" font-size="9.6" text-anchor="end" textLength="22.33" lengthAdjust="spacingAndGlyphs" transform="rotate(-45 107.50 736.00)">Basal</text>
<text x="133.65" y="736.00" font-size="9.6" text-anchor="end" textLength="33.07" lengthAdjust="spacingAndGlyphs" transform="rotate(-45 133.65 736.00)">ATP-link</text>
<text x="159.80" y="736.00" font-size="9.6" text-anchor="end" textLength="45.16" lengthAdjust="spacingAndGlyphs" transform="rotate(-45 159.80 736.00)">Proton leak</text>
<text x="185.95" y="736.00" font-size="9.6" text-anchor="end" textLength="33.23" lengthAdjust="spacingAndGlyphs" transform="rotate(-45 185.95 736.00)">Maximal</text>
<text x="212.10" y="736.00" font-size="9.6" text-anchor="end" textLength="51.11" lengthAdjust="spacingAndGlyphs" transform="rotate(-45 212.10 736.00)">Res capacity</text>
<text x="238.25" y="736.00" font-size="9.6" text-anchor="end" textLength="36.22" lengthAdjust="spacingAndGlyphs" transform="rotate(-45 238.25 736.00)">Non-mito</text>
<text x="64.00" y="710.00" font-size="10.6" textLength="63.00" lengthAdjust="spacingAndGlyphs" transform="rotate(-90 64.00 710.00)">OCR (pmol/min)</text>
<line x1="177.60" y1="637.40" x2="187.60" y2="637.40" stroke="#231f20" stroke-width="1.3"/>
<text x="182.60" y="637.10" font-size="9" text-anchor="middle" font-weight="bold">***</text>
<line x1="203.80" y1="665.50" x2="213.80" y2="665.50" stroke="#231f20" stroke-width="1.3"/>
<text x="208.80" y="664.60" font-size="9" text-anchor="middle" font-weight="bold">***</text>
<path d="M98.20,644.55 L99.70,647.40 L96.70,647.40 Z" fill="#1f4877"/>
<rect x="96.60" y="656.80" width="3.20" height="3.20" fill="#b41331"/>
<text x="103.30" y="648.90" font-size="9.5" textLength="27.50" lengthAdjust="spacingAndGlyphs">Vehicle</text>
<text x="103.30" y="661.50" font-size="9.5" textLength="49.30" lengthAdjust="spacingAndGlyphs">Nilotinib(2w)</text>
<rect x="327.70" y="699.80" width="4.60" height="24.10" fill="#8e9cc0"/>
<rect x="336.50" y="697.70" width="5.30" height="26.20" fill="#e7917f"/>
<rect x="351.80" y="707.80" width="4.80" height="16.10" fill="#8e9cc0"/>
<rect x="360.90" y="706.60" width="5.30" height="17.30" fill="#e7917f"/>
<rect x="375.70" y="697.30" width="4.80" height="26.60" fill="#8e9cc0"/>
<rect x="384.80" y="688.20" width="5.10" height="35.70" fill="#e7917f"/>
<rect x="400.10" y="691.30" width="4.90" height="32.60" fill="#8e9cc0"/>
<rect x="409.00" y="684.60" width="4.80" height="39.30" fill="#e7917f"/>
<rect x="424.00" y="667.00" width="5.10" height="56.90" fill="#8e9cc0"/>
<rect x="432.90" y="658.60" width="5.30" height="65.30" fill="#e7917f"/>
<rect x="448.30" y="714.60" width="4.70" height="9.30" fill="#8e9cc0"/>
<rect x="457.20" y="712.10" width="4.90" height="11.80" fill="#e7917f"/>
<line x1="330.00" y1="699.17" x2="330.00" y2="700.75" stroke="#1f4877" stroke-width="0.8"/>
<line x1="328.60" y1="699.17" x2="331.40" y2="699.17" stroke="#1f4877" stroke-width="0.8"/>
<line x1="328.60" y1="700.75" x2="331.40" y2="700.75" stroke="#1f4877" stroke-width="0.8"/>
<path d="M329.10,696.08 L330.85,699.40 L327.35,699.40 Z" fill="#1f4877"/>
<path d="M330.90,697.58 L332.65,700.90 L329.15,700.90 Z" fill="#1f4877"/>
<path d="M329.60,699.08 L331.35,702.40 L327.85,702.40 Z" fill="#1f4877"/>
<path d="M330.70,700.58 L332.45,703.90 L328.95,703.90 Z" fill="#1f4877"/>
<line x1="339.15" y1="697.28" x2="339.15" y2="698.68" stroke="#b41331" stroke-width="0.8"/>
<line x1="337.75" y1="697.28" x2="340.55" y2="697.28" stroke="#b41331" stroke-width="0.8"/>
<line x1="337.75" y1="698.68" x2="340.55" y2="698.68" stroke="#b41331" stroke-width="0.8"/>
<rect x="336.55" y="694.80" width="3.40" height="3.40" fill="#b41331"/>
<rect x="338.35" y="695.80" width="3.40" height="3.40" fill="#b41331"/>
<rect x="337.05" y="696.80" width="3.40" height="3.40" fill="#b41331"/>
<rect x="338.15" y="698.80" width="3.40" height="3.40" fill="#b41331"/>
<line x1="354.20" y1="706.64" x2="354.20" y2="708.39" stroke="#1f4877" stroke-width="0.8"/>
<line x1="352.80" y1="706.64" x2="355.60" y2="706.64" stroke="#1f4877" stroke-width="0.8"/>
<line x1="352.80" y1="708.39" x2="355.60" y2="708.39" stroke="#1f4877" stroke-width="0.8"/>
<path d="M353.30,702.58 L355.05,705.90 L351.55,705.90 Z" fill="#1f4877"/>
<path d="M355.10,704.58 L356.85,707.90 L353.35,707.90 Z" fill="#1f4877"/>
<path d="M353.80,706.08 L355.55,709.40 L352.05,709.40 Z" fill="#1f4877"/>
<path d="M354.90,707.58 L356.65,710.90 L353.15,710.90 Z" fill="#1f4877"/>
<line x1="363.55" y1="706.04" x2="363.55" y2="707.79" stroke="#b41331" stroke-width="0.8"/>
<line x1="362.15" y1="706.04" x2="364.95" y2="706.04" stroke="#b41331" stroke-width="0.8"/>
<line x1="362.15" y1="707.79" x2="364.95" y2="707.79" stroke="#b41331" stroke-width="0.8"/>
<rect x="360.95" y="703.30" width="3.40" height="3.40" fill="#b41331"/>
<rect x="362.75" y="704.80" width="3.40" height="3.40" fill="#b41331"/>
<rect x="361.45" y="706.30" width="3.40" height="3.40" fill="#b41331"/>
<rect x="362.55" y="708.30" width="3.40" height="3.40" fill="#b41331"/>
<line x1="378.10" y1="695.10" x2="378.10" y2="699.47" stroke="#1f4877" stroke-width="0.8"/>
<line x1="376.70" y1="695.10" x2="379.50" y2="695.10" stroke="#1f4877" stroke-width="0.8"/>
<line x1="376.70" y1="699.47" x2="379.50" y2="699.47" stroke="#1f4877" stroke-width="0.8"/>
<path d="M377.20,689.08 L378.95,692.40 L375.45,692.40 Z" fill="#1f4877"/>
<path d="M379.00,692.08 L380.75,695.40 L377.25,695.40 Z" fill="#1f4877"/>
<path d="M377.70,695.08 L379.45,698.40 L375.95,698.40 Z" fill="#1f4877"/>
<path d="M378.80,698.08 L380.55,701.40 L377.05,701.40 Z" fill="#1f4877"/>
<path d="M377.30,701.58 L379.05,704.90 L375.55,704.90 Z" fill="#1f4877"/>
<line x1="387.35" y1="686.90" x2="387.35" y2="689.18" stroke="#b41331" stroke-width="0.8"/>
<line x1="385.95" y1="686.90" x2="388.75" y2="686.90" stroke="#b41331" stroke-width="0.8"/>
<line x1="385.95" y1="689.18" x2="388.75" y2="689.18" stroke="#b41331" stroke-width="0.8"/>
<rect x="384.75" y="682.80" width="3.40" height="3.40" fill="#b41331"/>
<rect x="386.55" y="684.80" width="3.40" height="3.40" fill="#b41331"/>
<rect x="385.25" y="686.80" width="3.40" height="3.40" fill="#b41331"/>
<rect x="386.35" y="689.30" width="3.40" height="3.40" fill="#b41331"/>
<line x1="402.55" y1="688.39" x2="402.55" y2="695.39" stroke="#1f4877" stroke-width="0.8"/>
<line x1="401.15" y1="688.39" x2="403.95" y2="688.39" stroke="#1f4877" stroke-width="0.8"/>
<line x1="401.15" y1="695.39" x2="403.95" y2="695.39" stroke="#1f4877" stroke-width="0.8"/>
<path d="M401.65,681.08 L403.40,684.40 L399.90,684.40 Z" fill="#1f4877"/>
<path d="M403.45,685.08 L405.20,688.40 L401.70,688.40 Z" fill="#1f4877"/>
<path d="M402.15,689.08 L403.90,692.40 L400.40,692.40 Z" fill="#1f4877"/>
<path d="M403.25,693.08 L405.00,696.40 L401.50,696.40 Z" fill="#1f4877"/>
<path d="M401.75,697.08 L403.50,700.40 L400.00,700.40 Z" fill="#1f4877"/>
<path d="M402.75,701.08 L404.50,704.40 L401.00,704.40 Z" fill="#1f4877"/>
<line x1="411.40" y1="683.34" x2="411.40" y2="686.66" stroke="#b41331" stroke-width="0.8"/>
<line x1="410.00" y1="683.34" x2="412.80" y2="683.34" stroke="#b41331" stroke-width="0.8"/>
<line x1="410.00" y1="686.66" x2="412.80" y2="686.66" stroke="#b41331" stroke-width="0.8"/>
<rect x="408.80" y="679.30" width="3.40" height="3.40" fill="#b41331"/>
<rect x="410.60" y="681.30" width="3.40" height="3.40" fill="#b41331"/>
<rect x="409.30" y="683.30" width="3.40" height="3.40" fill="#b41331"/>
<rect x="410.40" y="685.30" width="3.40" height="3.40" fill="#b41331"/>
<rect x="408.90" y="688.80" width="3.40" height="3.40" fill="#b41331"/>
<line x1="426.55" y1="663.50" x2="426.55" y2="669.98" stroke="#1f4877" stroke-width="0.8"/>
<line x1="425.15" y1="663.50" x2="427.95" y2="663.50" stroke="#1f4877" stroke-width="0.8"/>
<line x1="425.15" y1="669.98" x2="427.95" y2="669.98" stroke="#1f4877" stroke-width="0.8"/>
<path d="M425.65,655.08 L427.40,658.40 L423.90,658.40 Z" fill="#1f4877"/>
<path d="M427.45,660.08 L429.20,663.40 L425.70,663.40 Z" fill="#1f4877"/>
<path d="M426.15,664.08 L427.90,667.40 L424.40,667.40 Z" fill="#1f4877"/>
<path d="M427.25,667.08 L429.00,670.40 L425.50,670.40 Z" fill="#1f4877"/>
<path d="M425.75,670.08 L427.50,673.40 L424.00,673.40 Z" fill="#1f4877"/>
<path d="M426.75,673.58 L428.50,676.90 L425.00,676.90 Z" fill="#1f4877"/>
<line x1="435.55" y1="657.34" x2="435.55" y2="660.14" stroke="#b41331" stroke-width="0.8"/>
<line x1="434.15" y1="657.34" x2="436.95" y2="657.34" stroke="#b41331" stroke-width="0.8"/>
<line x1="434.15" y1="660.14" x2="436.95" y2="660.14" stroke="#b41331" stroke-width="0.8"/>
<rect x="432.95" y="653.30" width="3.40" height="3.40" fill="#b41331"/>
<rect x="434.75" y="655.30" width="3.40" height="3.40" fill="#b41331"/>
<rect x="433.45" y="657.30" width="3.40" height="3.40" fill="#b41331"/>
<rect x="434.55" y="659.30" width="3.40" height="3.40" fill="#b41331"/>
<rect x="433.05" y="661.30" width="3.40" height="3.40" fill="#b41331"/>
<line x1="450.65" y1="714.04" x2="450.65" y2="714.74" stroke="#1f4877" stroke-width="0.8"/>
<line x1="449.25" y1="714.04" x2="452.05" y2="714.04" stroke="#1f4877" stroke-width="0.8"/>
<line x1="449.25" y1="714.74" x2="452.05" y2="714.74" stroke="#1f4877" stroke-width="0.8"/>
<path d="M449.75,711.08 L451.50,714.40 L448.00,714.40 Z" fill="#1f4877"/>
<path d="M451.55,712.08 L453.30,715.40 L449.80,715.40 Z" fill="#1f4877"/>
<path d="M450.25,713.08 L452.00,716.40 L448.50,716.40 Z" fill="#1f4877"/>
<line x1="459.65" y1="711.54" x2="459.65" y2="712.59" stroke="#b41331" stroke-width="0.8"/>
<line x1="458.25" y1="711.54" x2="461.05" y2="711.54" stroke="#b41331" stroke-width="0.8"/>
<line x1="458.25" y1="712.59" x2="461.05" y2="712.59" stroke="#b41331" stroke-width="0.8"/>
<rect x="457.05" y="708.80" width="3.40" height="3.40" fill="#b41331"/>
<rect x="458.85" y="709.80" width="3.40" height="3.40" fill="#b41331"/>
<rect x="457.55" y="710.80" width="3.40" height="3.40" fill="#b41331"/>
<rect x="458.65" y="711.80" width="3.40" height="3.40" fill="#b41331"/>
<line x1="323.40" y1="639.50" x2="323.40" y2="724.40" stroke="#231f20" stroke-width="1.1"/>
<line x1="322.90" y1="723.90" x2="465.70" y2="723.90" stroke="#231f20" stroke-width="1.1"/>
<line x1="320.40" y1="724.00" x2="323.40" y2="724.00" stroke="#231f20" stroke-width="1"/>
<text x="318.20" y="727.30" font-size="9.3" text-anchor="end">0</text>
<line x1="320.40" y1="703.60" x2="323.40" y2="703.60" stroke="#231f20" stroke-width="1"/>
<text x="318.20" y="706.90" font-size="9.3" text-anchor="end">10</text>
<line x1="320.40" y1="682.90" x2="323.40" y2="682.90" stroke="#231f20" stroke-width="1"/>
<text x="318.20" y="686.20" font-size="9.3" text-anchor="end">20</text>
<line x1="320.40" y1="662.80" x2="323.40" y2="662.80" stroke="#231f20" stroke-width="1"/>
<text x="318.20" y="666.10" font-size="9.3" text-anchor="end">30</text>
<line x1="320.40" y1="641.60" x2="323.40" y2="641.60" stroke="#231f20" stroke-width="1"/>
<text x="318.20" y="644.90" font-size="9.3" text-anchor="end">40</text>
<line x1="334.00" y1="723.90" x2="334.00" y2="726.90" stroke="#231f20" stroke-width="1"/>
<line x1="358.12" y1="723.90" x2="358.12" y2="726.90" stroke="#231f20" stroke-width="1"/>
<line x1="382.24" y1="723.90" x2="382.24" y2="726.90" stroke="#231f20" stroke-width="1"/>
<line x1="406.36" y1="723.90" x2="406.36" y2="726.90" stroke="#231f20" stroke-width="1"/>
<line x1="430.48" y1="723.90" x2="430.48" y2="726.90" stroke="#231f20" stroke-width="1"/>
<line x1="454.60" y1="723.90" x2="454.60" y2="726.90" stroke="#231f20" stroke-width="1"/>
<text x="338.00" y="735.90" font-size="9.6" text-anchor="end" textLength="22.33" lengthAdjust="spacingAndGlyphs" transform="rotate(-45 338.00 735.90)">Basal</text>
<text x="362.12" y="735.90" font-size="9.6" text-anchor="end" textLength="55.56" lengthAdjust="spacingAndGlyphs" transform="rotate(-45 362.12 735.90)">Glyco-reserve</text>
<text x="386.24" y="735.90" font-size="9.6" text-anchor="end" textLength="62.01" lengthAdjust="spacingAndGlyphs" transform="rotate(-45 386.24 735.90)">FCCP-sensitive</text>
<text x="410.36" y="735.90" font-size="9.6" text-anchor="end" textLength="59.05" lengthAdjust="spacingAndGlyphs" transform="rotate(-45 410.36 735.90)">AntiA-sensitive</text>
<text x="434.48" y="735.90" font-size="9.6" text-anchor="end" textLength="40.19" lengthAdjust="spacingAndGlyphs" transform="rotate(-45 434.48 735.90)">Max glyco</text>
<text x="458.60" y="735.90" font-size="9.6" text-anchor="end" textLength="67.48" lengthAdjust="spacingAndGlyphs" transform="rotate(-45 458.60 735.90)">Non-glyco ECAR</text>
<text x="296.00" y="714.40" font-size="10.6" textLength="66.10" lengthAdjust="spacingAndGlyphs" transform="rotate(-90 296.00 714.40)">ECAR (mpH/min)</text>
<line x1="377.40" y1="679.70" x2="387.40" y2="679.70" stroke="#231f20" stroke-width="1.3"/>
<text x="382.40" y="679.00" font-size="9" text-anchor="middle" font-weight="bold">***</text>
<line x1="402.10" y1="676.10" x2="411.70" y2="676.10" stroke="#231f20" stroke-width="1.3"/>
<text x="406.90" y="675.20" font-size="9" text-anchor="middle" font-weight="bold">*</text>
<line x1="425.90" y1="650.50" x2="436.30" y2="650.50" stroke="#231f20" stroke-width="1.3"/>
<text x="431.10" y="649.40" font-size="9" text-anchor="middle" font-weight="bold">***</text>
<path d="M328.70,644.65 L330.20,647.50 L327.20,647.50 Z" fill="#1f4877"/>
<rect x="327.10" y="657.40" width="3.20" height="3.20" fill="#b41331"/>
<text x="333.40" y="649.00" font-size="9.5" textLength="27.50" lengthAdjust="spacingAndGlyphs">Vehicle</text>
<text x="333.40" y="662.10" font-size="9.5" textLength="49.30" lengthAdjust="spacingAndGlyphs">Nilotinib(2w)</text>
</svg>
</body></html>
